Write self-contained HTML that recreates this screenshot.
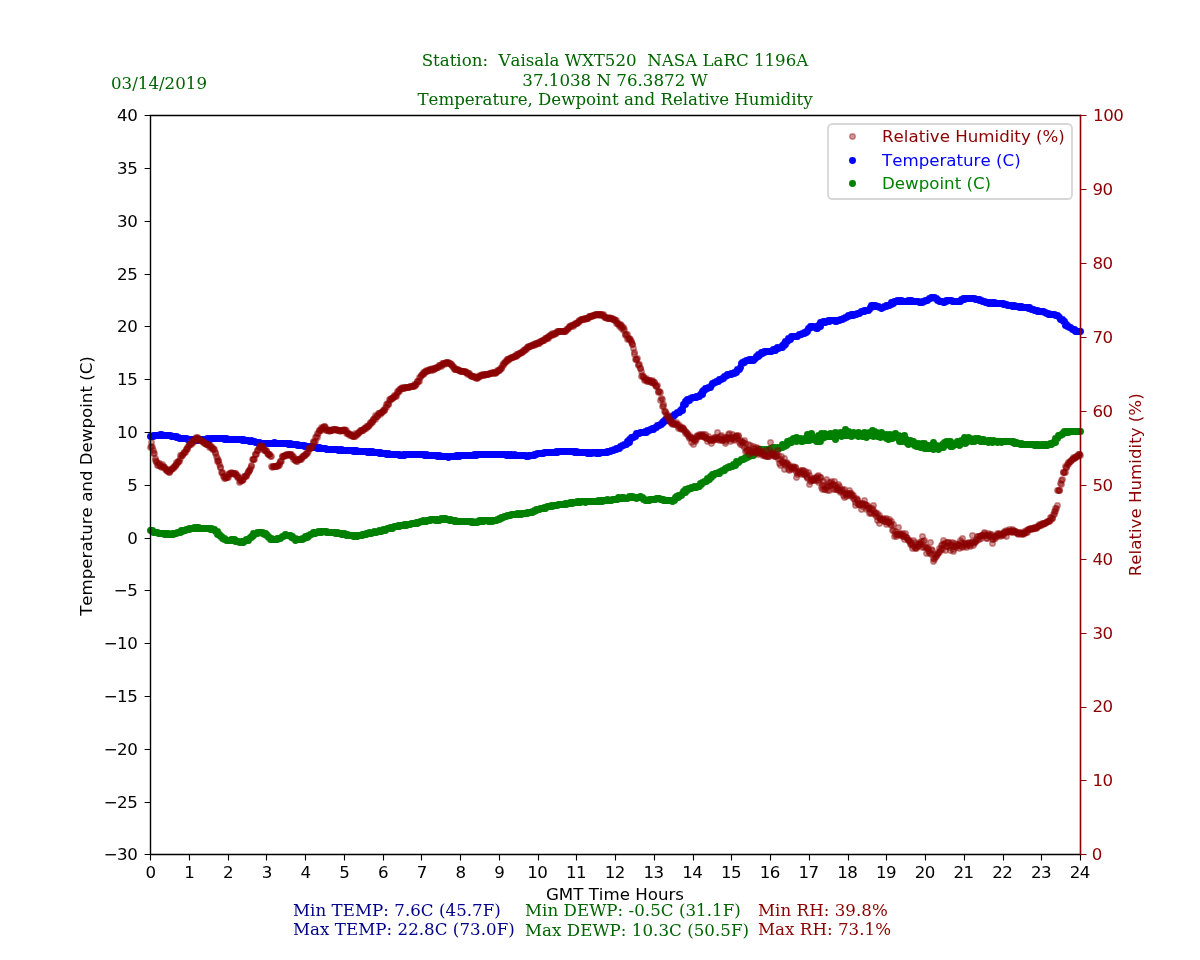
<!DOCTYPE html>
<html lang="en"><head><meta charset="utf-8"><title>Temperature, Dewpoint and Relative Humidity</title>
<style>html,body{margin:0;padding:0;background:#fff}body{width:1200px;height:960px;overflow:hidden}svg{display:block}text{font-family:"DejaVu Sans","Liberation Sans",sans-serif;font-size:16.67px;font-kerning:none}.s{font-family:"DejaVu Serif","Liberation Serif",serif}</style></head><body>
<svg width="1200" height="960" viewBox="0 0 1200 960" role="img" aria-label="Temperature, Dewpoint and Relative Humidity chart">
<rect width="1200" height="960" fill="#fff"/>
<g id="temp"><path d="M150.5 436.5h0M151.5 436.5h0M152.5 436.5h0M153.5 436.5h0M153.5 435.5h0M154.5 435.5h0M155.5 435.5h0M156.5 435.5h0M157.5 435.5h0M158.5 435.5h0M159.5 435.5h0M160.5 434.5h0M160.5 435.5h0M161.5 434.5h0M162.5 435.5h0M163.5 435.5h0M164.5 435.5h0M165.5 435.5h0M166.5 435.5h0M167.5 435.5h0M168.5 435.5h0M169.5 435.5h0M170.5 435.5h0M171.5 436.5h0M172.5 436.5h0M173.5 436.5h0M174.5 436.5h0M175.5 436.5h0M176.5 437.5h0M176.5 436.5h0M177.5 437.5h0M178.5 437.5h0M179.5 438.5h0M180.5 438.5h0M181.5 438.5h0M182.5 438.5h0M183.5 438.5h0M184.5 438.5h0M185.5 438.5h0M186.5 438.5h0M187.5 439.5h0M188.5 439.5h0M189.5 439.5h0M190.5 439.5h0M191.5 439.5h0M192.5 439.5h0M193.5 439.5h0M194.5 439.5h0M195.5 439.5h0M195.5 440.5h0M196.5 440.5h0M197.5 439.5h0M197.5 440.5h0M198.5 439.5h0M199.5 439.5h0M200.5 439.5h0M201.5 439.5h0M202.5 439.5h0M203.5 439.5h0M204.5 439.5h0M205.5 439.5h0M206.5 439.5h0M207.5 439.5h0M207.5 438.5h0M208.5 439.5h0M209.5 438.5h0M209.5 439.5h0M210.5 439.5h0M211.5 438.5h0M212.5 438.5h0M213.5 438.5h0M214.5 438.5h0M215.5 438.5h0M216.5 438.5h0M217.5 438.5h0M218.5 438.5h0M219.5 438.5h0M220.5 438.5h0M221.5 438.5h0M222.5 438.5h0M223.5 438.5h0M224.5 438.5h0M224.5 439.5h0M225.5 438.5h0M226.5 438.5h0M226.5 439.5h0M227.5 439.5h0M228.5 439.5h0M229.5 439.5h0M230.5 439.5h0M231.5 439.5h0M232.5 439.5h0M233.5 439.5h0M234.5 439.5h0M235.5 439.5h0M236.5 439.5h0M237.5 439.5h0M238.5 439.5h0M239.5 439.5h0M240.5 439.5h0M241.5 439.5h0M242.5 439.5h0M242.5 440.5h0M243.5 439.5h0M244.5 440.5h0M245.5 440.5h0M246.5 440.5h0M247.5 440.5h0M248.5 440.5h0M249.5 441.5h0M250.5 441.5h0M251.5 440.5h0M251.5 441.5h0M252.5 441.5h0M253.5 441.5h0M254.5 441.5h0M255.5 442.5h0M256.5 442.5h0M257.5 442.5h0M258.5 443.5h0M259.5 442.5h0M260.5 443.5h0M261.5 443.5h0M262.5 443.5h0M263.5 443.5h0M264.5 443.5h0M265.5 443.5h0M266.5 443.5h0M267.5 443.5h0M268.5 443.5h0M269.5 443.5h0M270.5 443.5h0M271.5 443.5h0M272.5 443.5h0M273.5 443.5h0M274.5 442.5h0M275.5 443.5h0M276.5 443.5h0M277.5 443.5h0M278.5 443.5h0M279.5 443.5h0M280.5 443.5h0M281.5 443.5h0M282.5 443.5h0M283.5 443.5h0M284.5 443.5h0M285.5 443.5h0M286.5 443.5h0M287.5 443.5h0M288.5 444.5h0M289.5 443.5h0M290.5 443.5h0M290.5 444.5h0M291.5 444.5h0M292.5 444.5h0M293.5 444.5h0M294.5 444.5h0M295.5 444.5h0M296.5 444.5h0M297.5 444.5h0M297.5 445.5h0M298.5 445.5h0M299.5 445.5h0M300.5 445.5h0M301.5 445.5h0M302.5 445.5h0M303.5 445.5h0M304.5 446.5h0M304.5 445.5h0M305.5 446.5h0M306.5 446.5h0M307.5 446.5h0M308.5 446.5h0M309.5 446.5h0M310.5 446.5h0M311.5 446.5h0M311.5 447.5h0M312.5 447.5h0M313.5 447.5h0M314.5 447.5h0M315.5 447.5h0M316.5 447.5h0M317.5 447.5h0M317.5 448.5h0M318.5 447.5h0M319.5 447.5h0M319.5 448.5h0M320.5 448.5h0M321.5 448.5h0M322.5 448.5h0M323.5 448.5h0M324.5 448.5h0M325.5 448.5h0M326.5 449.5h0M327.5 449.5h0M328.5 449.5h0M329.5 449.5h0M330.5 449.5h0M331.5 449.5h0M332.5 449.5h0M333.5 449.5h0M334.5 449.5h0M335.5 449.5h0M336.5 449.5h0M337.5 449.5h0M338.5 450.5h0M339.5 449.5h0M340.5 450.5h0M341.5 449.5h0M341.5 450.5h0M342.5 450.5h0M343.5 450.5h0M344.5 450.5h0M345.5 450.5h0M346.5 450.5h0M347.5 450.5h0M348.5 450.5h0M349.5 450.5h0M350.5 450.5h0M351.5 450.5h0M352.5 450.5h0M353.5 450.5h0M353.5 451.5h0M354.5 450.5h0M355.5 451.5h0M355.5 450.5h0M356.5 450.5h0M357.5 451.5h0M358.5 451.5h0M359.5 451.5h0M360.5 451.5h0M361.5 451.5h0M362.5 451.5h0M363.5 451.5h0M364.5 451.5h0M365.5 451.5h0M366.5 451.5h0M367.5 452.5h0M368.5 452.5h0M368.5 451.5h0M369.5 451.5h0M370.5 451.5h0M370.5 452.5h0M371.5 452.5h0M372.5 451.5h0M372.5 452.5h0M373.5 452.5h0M374.5 452.5h0M375.5 452.5h0M376.5 452.5h0M377.5 452.5h0M378.5 452.5h0M379.5 453.5h0M379.5 452.5h0M380.5 452.5h0M381.5 453.5h0M382.5 453.5h0M383.5 453.5h0M384.5 453.5h0M385.5 453.5h0M386.5 453.5h0M386.5 454.5h0M387.5 454.5h0M388.5 454.5h0M388.5 453.5h0M389.5 454.5h0M390.5 454.5h0M391.5 454.5h0M392.5 454.5h0M393.5 454.5h0M394.5 454.5h0M395.5 454.5h0M396.5 454.5h0M397.5 454.5h0M398.5 454.5h0M399.5 454.5h0M399.5 455.5h0M400.5 455.5h0M401.5 455.5h0M402.5 455.5h0M403.5 454.5h0M403.5 455.5h0M404.5 454.5h0M404.5 455.5h0M405.5 454.5h0M406.5 454.5h0M407.5 454.5h0M408.5 454.5h0M409.5 454.5h0M410.5 454.5h0M411.5 454.5h0M412.5 454.5h0M413.5 454.5h0M414.5 454.5h0M415.5 454.5h0M416.5 454.5h0M417.5 454.5h0M418.5 454.5h0M419.5 454.5h0M420.5 454.5h0M421.5 454.5h0M422.5 454.5h0M423.5 454.5h0M424.5 455.5h0M424.5 454.5h0M425.5 455.5h0M426.5 454.5h0M426.5 455.5h0M427.5 455.5h0M428.5 455.5h0M429.5 455.5h0M430.5 455.5h0M431.5 455.5h0M432.5 455.5h0M433.5 455.5h0M434.5 455.5h0M435.5 455.5h0M436.5 455.5h0M437.5 455.5h0M437.5 456.5h0M438.5 456.5h0M439.5 455.5h0M439.5 456.5h0M440.5 456.5h0M441.5 456.5h0M442.5 456.5h0M443.5 456.5h0M444.5 456.5h0M445.5 456.5h0M446.5 456.5h0M447.5 456.5h0M448.5 457.5h0M449.5 456.5h0M450.5 456.5h0M451.5 456.5h0M452.5 456.5h0M453.5 456.5h0M454.5 456.5h0M455.5 456.5h0M456.5 455.5h0M457.5 456.5h0M457.5 455.5h0M458.5 455.5h0M459.5 456.5h0M459.5 455.5h0M460.5 455.5h0M461.5 455.5h0M462.5 455.5h0M463.5 455.5h0M464.5 455.5h0M465.5 455.5h0M466.5 455.5h0M467.5 455.5h0M468.5 455.5h0M469.5 455.5h0M470.5 455.5h0M471.5 455.5h0M472.5 455.5h0M473.5 455.5h0M474.5 454.5h0M475.5 454.5h0M476.5 455.5h0M476.5 454.5h0M477.5 454.5h0M478.5 454.5h0M479.5 454.5h0M480.5 454.5h0M481.5 454.5h0M482.5 454.5h0M483.5 454.5h0M484.5 454.5h0M485.5 454.5h0M486.5 454.5h0M487.5 454.5h0M488.5 454.5h0M489.5 454.5h0M490.5 454.5h0M491.5 454.5h0M492.5 454.5h0M493.5 454.5h0M494.5 454.5h0M495.5 454.5h0M496.5 454.5h0M497.5 454.5h0M498.5 454.5h0M499.5 454.5h0M500.5 454.5h0M501.5 454.5h0M502.5 454.5h0M503.5 454.5h0M504.5 454.5h0M505.5 454.5h0M506.5 455.5h0M507.5 454.5h0M507.5 455.5h0M508.5 455.5h0M508.5 454.5h0M509.5 455.5h0M510.5 455.5h0M510.5 454.5h0M511.5 454.5h0M512.5 455.5h0M513.5 455.5h0M514.5 455.5h0M514.5 454.5h0M515.5 455.5h0M516.5 455.5h0M517.5 455.5h0M518.5 455.5h0M519.5 455.5h0M520.5 455.5h0M521.5 455.5h0M522.5 455.5h0M523.5 455.5h0M524.5 455.5h0M525.5 455.5h0M526.5 456.5h0M527.5 456.5h0M528.5 455.5h0M528.5 456.5h0M529.5 455.5h0M530.5 455.5h0M531.5 455.5h0M532.5 455.5h0M533.5 455.5h0M534.5 455.5h0M534.5 454.5h0M535.5 454.5h0M536.5 454.5h0M537.5 453.5h0M538.5 453.5h0M539.5 453.5h0M540.5 453.5h0M541.5 453.5h0M542.5 453.5h0M543.5 453.5h0M544.5 452.5h0M545.5 452.5h0M546.5 452.5h0M547.5 452.5h0M548.5 452.5h0M549.5 452.5h0M550.5 452.5h0M551.5 452.5h0M552.5 452.5h0M553.5 452.5h0M554.5 452.5h0M555.5 452.5h0M556.5 452.5h0M556.5 451.5h0M557.5 452.5h0M558.5 451.5h0M559.5 451.5h0M560.5 451.5h0M561.5 451.5h0M562.5 451.5h0M563.5 451.5h0M564.5 451.5h0M565.5 451.5h0M566.5 451.5h0M567.5 451.5h0M568.5 451.5h0M569.5 451.5h0M570.5 451.5h0M571.5 451.5h0M572.5 451.5h0M573.5 451.5h0M574.5 452.5h0M574.5 451.5h0M575.5 451.5h0M576.5 452.5h0M576.5 451.5h0M577.5 452.5h0M578.5 452.5h0M579.5 452.5h0M580.5 452.5h0M581.5 452.5h0M582.5 452.5h0M583.5 452.5h0M584.5 452.5h0M585.5 452.5h0M586.5 452.5h0M587.5 452.5h0M587.5 453.5h0M588.5 452.5h0M589.5 453.5h0M590.5 452.5h0M590.5 453.5h0M591.5 453.5h0M592.5 452.5h0M593.5 452.5h0M594.5 452.5h0M595.5 452.5h0M596.5 453.5h0M596.5 452.5h0M597.5 452.5h0M598.5 453.5h0M598.5 452.5h0M599.5 453.5h0M600.5 452.5h0M601.5 452.5h0M602.5 452.5h0M603.5 452.5h0M604.5 452.5h0M605.5 452.5h0M606.5 452.5h0M607.5 452.5h0M607.5 451.5h0M608.5 451.5h0M609.5 451.5h0M610.5 451.5h0M611.5 450.5h0M612.5 450.5h0M613.5 450.5h0M614.5 449.5h0M615.5 449.5h0M616.5 449.5h0M616.5 448.5h0M617.5 448.5h0M618.5 448.5h0M619.5 448.5h0M620.5 446.5h0M621.5 446.5h0M622.5 445.5h0M623.5 445.5h0M624.5 444.5h0M625.5 444.5h0M626.5 444.5h0M627.5 441.5h0M627.5 442.5h0M628.5 442.5h0M629.5 442.5h0M629.5 439.5h0M630.5 439.5h0M631.5 437.5h0M632.5 437.5h0M633.5 437.5h0M634.5 436.5h0M635.5 436.5h0M636.5 433.5h0M637.5 433.5h0M638.5 433.5h0M639.5 433.5h0M640.5 432.5h0M641.5 432.5h0M642.5 432.5h0M643.5 432.5h0M644.5 432.5h0M645.5 431.5h0M646.5 432.5h0M647.5 431.5h0M647.5 430.5h0M648.5 430.5h0M649.5 430.5h0M650.5 429.5h0M651.5 429.5h0M652.5 429.5h0M652.5 428.5h0M653.5 429.5h0M654.5 428.5h0M655.5 427.5h0M656.5 427.5h0M657.5 425.5h0M658.5 425.5h0M659.5 425.5h0M660.5 424.5h0M661.5 424.5h0M662.5 423.5h0M662.5 422.5h0M663.5 422.5h0M663.5 421.5h0M664.5 421.5h0M665.5 420.5h0M665.5 419.5h0M666.5 419.5h0M667.5 420.5h0M667.5 419.5h0M668.5 418.5h0M669.5 418.5h0M669.5 417.5h0M670.5 417.5h0M671.5 417.5h0M672.5 416.5h0M673.5 416.5h0M674.5 415.5h0M674.5 414.5h0M675.5 414.5h0M676.5 413.5h0M677.5 412.5h0M678.5 412.5h0M679.5 412.5h0M680.5 410.5h0M681.5 409.5h0M682.5 410.5h0M682.5 408.5h0M683.5 404.5h0M684.5 404.5h0M685.5 404.5h0M685.5 401.5h0M686.5 400.5h0M687.5 401.5h0M687.5 399.5h0M688.5 399.5h0M689.5 400.5h0M689.5 399.5h0M690.5 398.5h0M691.5 398.5h0M692.5 397.5h0M693.5 397.5h0M694.5 397.5h0M695.5 397.5h0M696.5 397.5h0M696.5 396.5h0M697.5 396.5h0M698.5 396.5h0M699.5 396.5h0M700.5 394.5h0M701.5 394.5h0M702.5 394.5h0M702.5 391.5h0M703.5 391.5h0M703.5 390.5h0M704.5 390.5h0M705.5 389.5h0M705.5 388.5h0M706.5 388.5h0M707.5 388.5h0M708.5 387.5h0M709.5 387.5h0M710.5 387.5h0M711.5 385.5h0M712.5 383.5h0M713.5 383.5h0M714.5 382.5h0M715.5 382.5h0M716.5 381.5h0M717.5 381.5h0M718.5 381.5h0M718.5 380.5h0M719.5 379.5h0M720.5 379.5h0M721.5 379.5h0M722.5 378.5h0M723.5 378.5h0M724.5 376.5h0M725.5 376.5h0M726.5 375.5h0M727.5 375.5h0M727.5 374.5h0M728.5 374.5h0M729.5 374.5h0M730.5 374.5h0M731.5 374.5h0M731.5 373.5h0M732.5 373.5h0M733.5 373.5h0M734.5 373.5h0M734.5 372.5h0M735.5 372.5h0M736.5 372.5h0M736.5 371.5h0M737.5 369.5h0M738.5 369.5h0M739.5 369.5h0M740.5 367.5h0M741.5 363.5h0M742.5 363.5h0M742.5 362.5h0M743.5 362.5h0M744.5 362.5h0M744.5 361.5h0M745.5 361.5h0M746.5 360.5h0M747.5 360.5h0M748.5 360.5h0M749.5 359.5h0M750.5 359.5h0M751.5 359.5h0M751.5 360.5h0M752.5 359.5h0M753.5 359.5h0M753.5 360.5h0M754.5 359.5h0M755.5 358.5h0M756.5 356.5h0M757.5 356.5h0M758.5 356.5h0M758.5 354.5h0M759.5 355.5h0M760.5 354.5h0M761.5 352.5h0M762.5 353.5h0M762.5 352.5h0M763.5 352.5h0M764.5 352.5h0M764.5 351.5h0M765.5 351.5h0M766.5 351.5h0M767.5 351.5h0M768.5 351.5h0M769.5 351.5h0M770.5 351.5h0M771.5 351.5h0M772.5 350.5h0M773.5 350.5h0M773.5 349.5h0M774.5 349.5h0M775.5 350.5h0M775.5 349.5h0M776.5 348.5h0M777.5 347.5h0M778.5 348.5h0M779.5 347.5h0M780.5 347.5h0M781.5 347.5h0M782.5 347.5h0M782.5 345.5h0M783.5 345.5h0M784.5 345.5h0M784.5 343.5h0M785.5 344.5h0M785.5 341.5h0M786.5 341.5h0M787.5 341.5h0M788.5 338.5h0M789.5 339.5h0M790.5 339.5h0M791.5 336.5h0M792.5 336.5h0M793.5 336.5h0M794.5 336.5h0M795.5 336.5h0M796.5 336.5h0M797.5 336.5h0M798.5 335.5h0M799.5 334.5h0M800.5 334.5h0M801.5 334.5h0M802.5 333.5h0M803.5 333.5h0M804.5 333.5h0M804.5 332.5h0M805.5 332.5h0M806.5 332.5h0M806.5 331.5h0M807.5 331.5h0M808.5 328.5h0M809.5 328.5h0M810.5 326.5h0M811.5 326.5h0M812.5 326.5h0M813.5 326.5h0M814.5 327.5h0M815.5 327.5h0M816.5 328.5h0M817.5 328.5h0M818.5 325.5h0M819.5 326.5h0M820.5 326.5h0M820.5 322.5h0M821.5 322.5h0M822.5 322.5h0M823.5 321.5h0M824.5 321.5h0M825.5 322.5h0M826.5 321.5h0M827.5 321.5h0M828.5 320.5h0M829.5 321.5h0M829.5 320.5h0M830.5 320.5h0M831.5 320.5h0M832.5 320.5h0M833.5 320.5h0M834.5 320.5h0M835.5 321.5h0M835.5 320.5h0M836.5 321.5h0M837.5 320.5h0M838.5 320.5h0M839.5 320.5h0M840.5 319.5h0M841.5 319.5h0M842.5 319.5h0M843.5 318.5h0M844.5 318.5h0M845.5 317.5h0M846.5 317.5h0M847.5 316.5h0M848.5 316.5h0M848.5 315.5h0M849.5 315.5h0M850.5 315.5h0M851.5 314.5h0M851.5 315.5h0M852.5 314.5h0M853.5 315.5h0M853.5 314.5h0M854.5 314.5h0M855.5 314.5h0M856.5 314.5h0M857.5 313.5h0M858.5 313.5h0M859.5 313.5h0M860.5 312.5h0M861.5 311.5h0M862.5 311.5h0M863.5 311.5h0M864.5 310.5h0M864.5 311.5h0M865.5 310.5h0M866.5 310.5h0M867.5 310.5h0M868.5 310.5h0M869.5 309.5h0M870.5 307.5h0M871.5 307.5h0M871.5 305.5h0M872.5 305.5h0M873.5 306.5h0M873.5 305.5h0M874.5 305.5h0M875.5 305.5h0M876.5 306.5h0M877.5 306.5h0M878.5 306.5h0M879.5 307.5h0M880.5 307.5h0M881.5 308.5h0M882.5 307.5h0M883.5 307.5h0M884.5 306.5h0M885.5 306.5h0M886.5 306.5h0M886.5 305.5h0M887.5 305.5h0M888.5 305.5h0M889.5 305.5h0M890.5 304.5h0M891.5 304.5h0M891.5 302.5h0M892.5 302.5h0M893.5 303.5h0M893.5 302.5h0M894.5 301.5h0M895.5 301.5h0M896.5 301.5h0M897.5 301.5h0M897.5 300.5h0M898.5 301.5h0M899.5 300.5h0M899.5 301.5h0M900.5 300.5h0M901.5 300.5h0M902.5 301.5h0M903.5 301.5h0M904.5 301.5h0M905.5 301.5h0M906.5 301.5h0M907.5 301.5h0M908.5 300.5h0M909.5 301.5h0M910.5 300.5h0M910.5 301.5h0M911.5 300.5h0M911.5 301.5h0M912.5 301.5h0M913.5 301.5h0M914.5 301.5h0M915.5 301.5h0M916.5 301.5h0M917.5 301.5h0M918.5 301.5h0M919.5 302.5h0M920.5 302.5h0M921.5 302.5h0M922.5 302.5h0M922.5 301.5h0M923.5 301.5h0M924.5 301.5h0M925.5 300.5h0M926.5 300.5h0M927.5 300.5h0M928.5 299.5h0M929.5 298.5h0M930.5 298.5h0M931.5 297.5h0M932.5 297.5h0M933.5 297.5h0M934.5 297.5h0M935.5 298.5h0M936.5 298.5h0M937.5 299.5h0M937.5 300.5h0M938.5 300.5h0M939.5 301.5h0M940.5 301.5h0M941.5 301.5h0M942.5 301.5h0M943.5 302.5h0M944.5 302.5h0M944.5 301.5h0M945.5 301.5h0M946.5 301.5h0M946.5 300.5h0M947.5 300.5h0M948.5 300.5h0M949.5 300.5h0M950.5 300.5h0M951.5 300.5h0M952.5 301.5h0M953.5 301.5h0M954.5 301.5h0M955.5 301.5h0M956.5 301.5h0M957.5 301.5h0M958.5 301.5h0M959.5 301.5h0M960.5 301.5h0M961.5 299.5h0M961.5 300.5h0M962.5 299.5h0M963.5 298.5h0M964.5 299.5h0M964.5 298.5h0M965.5 298.5h0M966.5 298.5h0M967.5 298.5h0M968.5 298.5h0M969.5 298.5h0M970.5 298.5h0M971.5 298.5h0M972.5 298.5h0M973.5 298.5h0M974.5 298.5h0M975.5 299.5h0M976.5 299.5h0M977.5 299.5h0M978.5 299.5h0M979.5 299.5h0M979.5 300.5h0M980.5 300.5h0M981.5 300.5h0M982.5 301.5h0M983.5 301.5h0M984.5 301.5h0M985.5 302.5h0M986.5 302.5h0M987.5 302.5h0M988.5 302.5h0M988.5 303.5h0M989.5 303.5h0M990.5 302.5h0M991.5 303.5h0M992.5 302.5h0M992.5 303.5h0M993.5 302.5h0M994.5 302.5h0M995.5 303.5h0M996.5 303.5h0M997.5 303.5h0M998.5 303.5h0M999.5 303.5h0M1000.5 303.5h0M1001.5 303.5h0M1002.5 303.5h0M1003.5 303.5h0M1003.5 304.5h0M1004.5 304.5h0M1005.5 304.5h0M1006.5 304.5h0M1007.5 305.5h0M1008.5 305.5h0M1009.5 305.5h0M1010.5 305.5h0M1011.5 305.5h0M1012.5 306.5h0M1012.5 305.5h0M1013.5 306.5h0M1014.5 305.5h0M1015.5 306.5h0M1016.5 306.5h0M1017.5 306.5h0M1018.5 306.5h0M1019.5 307.5h0M1019.5 306.5h0M1020.5 306.5h0M1021.5 306.5h0M1021.5 307.5h0M1022.5 307.5h0M1023.5 307.5h0M1024.5 307.5h0M1025.5 307.5h0M1026.5 307.5h0M1027.5 307.5h0M1028.5 307.5h0M1028.5 308.5h0M1029.5 307.5h0M1030.5 308.5h0M1031.5 309.5h0M1032.5 309.5h0M1033.5 309.5h0M1034.5 310.5h0M1035.5 310.5h0M1036.5 310.5h0M1037.5 311.5h0M1037.5 310.5h0M1038.5 311.5h0M1039.5 311.5h0M1040.5 311.5h0M1041.5 311.5h0M1042.5 311.5h0M1043.5 311.5h0M1044.5 312.5h0M1045.5 312.5h0M1046.5 313.5h0M1047.5 313.5h0M1048.5 313.5h0M1048.5 314.5h0M1049.5 314.5h0M1050.5 314.5h0M1051.5 314.5h0M1052.5 314.5h0M1053.5 314.5h0M1054.5 314.5h0M1055.5 315.5h0M1056.5 315.5h0M1057.5 315.5h0M1058.5 316.5h0M1059.5 317.5h0M1060.5 319.5h0M1061.5 319.5h0M1062.5 319.5h0M1063.5 321.5h0M1064.5 321.5h0M1065.5 325.5h0M1065.5 324.5h0M1066.5 324.5h0M1067.5 326.5h0M1068.5 326.5h0M1069.5 327.5h0M1070.5 327.5h0M1071.5 328.5h0M1072.5 329.5h0M1073.5 329.5h0M1074.5 329.5h0M1074.5 330.5h0M1075.5 330.5h0M1075.5 331.5h0M1076.5 331.5h0M1077.5 331.5h0M1078.5 331.5h0M1079.5 331.5h0M1080.5 331.5h0" fill="none" stroke="#0000ff" stroke-width="6.95" stroke-linecap="round"/></g>
<g id="dewp"><path d="M150.5 530.5h0M151.5 530.5h0M152.5 530.5h0M153.5 532.5h0M154.5 532.5h0M155.5 532.5h0M156.5 532.5h0M157.5 532.5h0M158.5 533.5h0M159.5 533.5h0M160.5 533.5h0M161.5 533.5h0M162.5 533.5h0M163.5 533.5h0M164.5 533.5h0M164.5 534.5h0M165.5 533.5h0M166.5 534.5h0M166.5 533.5h0M167.5 534.5h0M168.5 533.5h0M169.5 534.5h0M170.5 534.5h0M171.5 534.5h0M172.5 533.5h0M173.5 534.5h0M174.5 533.5h0M175.5 533.5h0M176.5 533.5h0M177.5 532.5h0M178.5 532.5h0M179.5 532.5h0M180.5 532.5h0M180.5 531.5h0M181.5 530.5h0M182.5 531.5h0M183.5 530.5h0M184.5 530.5h0M185.5 530.5h0M186.5 529.5h0M187.5 529.5h0M188.5 529.5h0M189.5 529.5h0M189.5 528.5h0M190.5 528.5h0M191.5 528.5h0M192.5 528.5h0M193.5 528.5h0M194.5 527.5h0M195.5 528.5h0M196.5 527.5h0M197.5 527.5h0M198.5 528.5h0M198.5 527.5h0M199.5 528.5h0M200.5 528.5h0M201.5 528.5h0M202.5 528.5h0M203.5 528.5h0M204.5 528.5h0M205.5 528.5h0M206.5 528.5h0M207.5 528.5h0M208.5 528.5h0M209.5 528.5h0M210.5 529.5h0M211.5 529.5h0M211.5 528.5h0M212.5 529.5h0M213.5 529.5h0M214.5 529.5h0M215.5 531.5h0M216.5 531.5h0M217.5 531.5h0M217.5 534.5h0M218.5 534.5h0M219.5 534.5h0M220.5 536.5h0M221.5 536.5h0M222.5 537.5h0M222.5 538.5h0M223.5 538.5h0M224.5 538.5h0M224.5 539.5h0M225.5 539.5h0M226.5 540.5h0M227.5 540.5h0M228.5 540.5h0M229.5 540.5h0M230.5 540.5h0M231.5 540.5h0M231.5 539.5h0M232.5 539.5h0M233.5 539.5h0M234.5 539.5h0M235.5 541.5h0M235.5 540.5h0M236.5 541.5h0M237.5 541.5h0M238.5 541.5h0M239.5 542.5h0M240.5 542.5h0M241.5 541.5h0M242.5 541.5h0M243.5 542.5h0M244.5 541.5h0M245.5 540.5h0M246.5 540.5h0M246.5 539.5h0M247.5 540.5h0M248.5 540.5h0M248.5 539.5h0M249.5 538.5h0M250.5 537.5h0M251.5 537.5h0M251.5 536.5h0M252.5 536.5h0M253.5 535.5h0M253.5 533.5h0M254.5 534.5h0M255.5 533.5h0M256.5 533.5h0M257.5 533.5h0M257.5 532.5h0M258.5 532.5h0M259.5 532.5h0M260.5 532.5h0M261.5 532.5h0M262.5 532.5h0M262.5 533.5h0M263.5 533.5h0M264.5 533.5h0M264.5 534.5h0M265.5 533.5h0M266.5 535.5h0M266.5 534.5h0M267.5 535.5h0M268.5 537.5h0M269.5 537.5h0M270.5 539.5h0M271.5 538.5h0M271.5 539.5h0M272.5 539.5h0M273.5 539.5h0M274.5 539.5h0M275.5 539.5h0M276.5 539.5h0M277.5 539.5h0M277.5 538.5h0M278.5 538.5h0M279.5 538.5h0M280.5 538.5h0M281.5 537.5h0M282.5 536.5h0M283.5 536.5h0M284.5 535.5h0M285.5 534.5h0M286.5 535.5h0M287.5 535.5h0M288.5 535.5h0M289.5 535.5h0M290.5 535.5h0M291.5 537.5h0M291.5 536.5h0M292.5 536.5h0M293.5 538.5h0M294.5 538.5h0M295.5 538.5h0M295.5 540.5h0M296.5 539.5h0M297.5 539.5h0M298.5 539.5h0M299.5 539.5h0M300.5 539.5h0M301.5 539.5h0M302.5 539.5h0M302.5 538.5h0M303.5 538.5h0M304.5 538.5h0M305.5 536.5h0M306.5 537.5h0M307.5 537.5h0M308.5 535.5h0M308.5 536.5h0M309.5 535.5h0M310.5 534.5h0M311.5 534.5h0M312.5 533.5h0M313.5 533.5h0M313.5 532.5h0M314.5 532.5h0M315.5 533.5h0M316.5 532.5h0M317.5 532.5h0M318.5 531.5h0M319.5 532.5h0M320.5 531.5h0M321.5 532.5h0M321.5 531.5h0M322.5 531.5h0M323.5 531.5h0M324.5 531.5h0M325.5 531.5h0M326.5 531.5h0M326.5 532.5h0M327.5 532.5h0M328.5 532.5h0M329.5 532.5h0M330.5 532.5h0M331.5 532.5h0M332.5 532.5h0M333.5 532.5h0M334.5 532.5h0M335.5 532.5h0M335.5 533.5h0M336.5 533.5h0M337.5 532.5h0M337.5 533.5h0M338.5 533.5h0M339.5 533.5h0M340.5 533.5h0M341.5 533.5h0M341.5 534.5h0M342.5 533.5h0M343.5 534.5h0M344.5 533.5h0M344.5 534.5h0M345.5 534.5h0M346.5 534.5h0M346.5 535.5h0M347.5 534.5h0M348.5 535.5h0M349.5 535.5h0M350.5 535.5h0M351.5 535.5h0M352.5 535.5h0M353.5 535.5h0M353.5 536.5h0M354.5 535.5h0M355.5 535.5h0M355.5 536.5h0M356.5 536.5h0M357.5 535.5h0M357.5 536.5h0M358.5 535.5h0M359.5 535.5h0M360.5 535.5h0M361.5 535.5h0M362.5 535.5h0M362.5 534.5h0M363.5 534.5h0M364.5 534.5h0M365.5 534.5h0M366.5 534.5h0M366.5 533.5h0M367.5 533.5h0M368.5 533.5h0M369.5 532.5h0M370.5 533.5h0M371.5 533.5h0M372.5 532.5h0M373.5 532.5h0M374.5 531.5h0M375.5 532.5h0M376.5 532.5h0M377.5 531.5h0M378.5 531.5h0M379.5 530.5h0M379.5 531.5h0M380.5 531.5h0M381.5 531.5h0M381.5 530.5h0M382.5 530.5h0M383.5 530.5h0M383.5 529.5h0M384.5 530.5h0M384.5 529.5h0M385.5 530.5h0M386.5 529.5h0M387.5 528.5h0M388.5 528.5h0M389.5 528.5h0M390.5 528.5h0M390.5 527.5h0M391.5 527.5h0M392.5 528.5h0M392.5 527.5h0M393.5 527.5h0M394.5 526.5h0M395.5 526.5h0M396.5 526.5h0M397.5 526.5h0M398.5 525.5h0M399.5 526.5h0M399.5 525.5h0M400.5 525.5h0M401.5 525.5h0M402.5 525.5h0M403.5 525.5h0M404.5 525.5h0M404.5 524.5h0M405.5 525.5h0M406.5 525.5h0M406.5 524.5h0M407.5 524.5h0M408.5 524.5h0M409.5 524.5h0M410.5 524.5h0M411.5 523.5h0M412.5 523.5h0M413.5 523.5h0M414.5 523.5h0M415.5 523.5h0M416.5 522.5h0M417.5 522.5h0M417.5 523.5h0M418.5 522.5h0M419.5 522.5h0M420.5 521.5h0M421.5 521.5h0M422.5 521.5h0M423.5 520.5h0M423.5 521.5h0M424.5 521.5h0M425.5 521.5h0M426.5 520.5h0M426.5 521.5h0M427.5 520.5h0M428.5 520.5h0M429.5 520.5h0M430.5 519.5h0M430.5 520.5h0M431.5 519.5h0M432.5 519.5h0M433.5 519.5h0M434.5 519.5h0M435.5 520.5h0M436.5 519.5h0M437.5 519.5h0M438.5 520.5h0M439.5 520.5h0M439.5 519.5h0M440.5 519.5h0M441.5 519.5h0M441.5 518.5h0M442.5 519.5h0M443.5 519.5h0M443.5 518.5h0M444.5 518.5h0M445.5 518.5h0M446.5 519.5h0M447.5 519.5h0M448.5 519.5h0M449.5 520.5h0M450.5 519.5h0M450.5 520.5h0M451.5 520.5h0M452.5 520.5h0M453.5 520.5h0M454.5 520.5h0M454.5 521.5h0M455.5 520.5h0M455.5 521.5h0M456.5 521.5h0M457.5 521.5h0M458.5 521.5h0M459.5 521.5h0M460.5 521.5h0M461.5 521.5h0M462.5 521.5h0M463.5 521.5h0M464.5 521.5h0M465.5 521.5h0M466.5 521.5h0M467.5 521.5h0M468.5 521.5h0M469.5 521.5h0M470.5 521.5h0M471.5 522.5h0M472.5 521.5h0M473.5 522.5h0M474.5 522.5h0M475.5 522.5h0M476.5 522.5h0M477.5 521.5h0M477.5 522.5h0M478.5 521.5h0M479.5 521.5h0M479.5 520.5h0M480.5 520.5h0M481.5 520.5h0M481.5 521.5h0M482.5 520.5h0M483.5 520.5h0M483.5 521.5h0M484.5 520.5h0M485.5 520.5h0M486.5 520.5h0M487.5 520.5h0M488.5 520.5h0M488.5 521.5h0M489.5 521.5h0M490.5 520.5h0M491.5 520.5h0M492.5 521.5h0M492.5 520.5h0M493.5 520.5h0M494.5 520.5h0M495.5 520.5h0M496.5 520.5h0M497.5 519.5h0M498.5 519.5h0M499.5 518.5h0M499.5 519.5h0M500.5 518.5h0M501.5 518.5h0M501.5 517.5h0M502.5 517.5h0M503.5 517.5h0M504.5 516.5h0M505.5 516.5h0M506.5 516.5h0M507.5 515.5h0M508.5 515.5h0M509.5 515.5h0M510.5 515.5h0M511.5 514.5h0M512.5 514.5h0M513.5 514.5h0M514.5 514.5h0M515.5 514.5h0M516.5 514.5h0M517.5 513.5h0M517.5 514.5h0M518.5 514.5h0M519.5 513.5h0M519.5 514.5h0M520.5 514.5h0M521.5 513.5h0M521.5 514.5h0M522.5 513.5h0M523.5 513.5h0M524.5 513.5h0M525.5 513.5h0M526.5 513.5h0M527.5 513.5h0M527.5 512.5h0M528.5 512.5h0M529.5 512.5h0M530.5 512.5h0M531.5 512.5h0M532.5 511.5h0M532.5 512.5h0M533.5 511.5h0M534.5 511.5h0M534.5 510.5h0M535.5 510.5h0M536.5 510.5h0M536.5 509.5h0M537.5 509.5h0M538.5 509.5h0M539.5 509.5h0M540.5 508.5h0M541.5 508.5h0M542.5 508.5h0M543.5 508.5h0M544.5 507.5h0M545.5 507.5h0M545.5 508.5h0M546.5 507.5h0M547.5 506.5h0M548.5 506.5h0M549.5 506.5h0M550.5 506.5h0M551.5 505.5h0M552.5 506.5h0M553.5 505.5h0M554.5 505.5h0M555.5 505.5h0M556.5 505.5h0M557.5 505.5h0M558.5 504.5h0M559.5 504.5h0M560.5 504.5h0M561.5 504.5h0M562.5 504.5h0M563.5 504.5h0M564.5 504.5h0M565.5 504.5h0M565.5 503.5h0M566.5 504.5h0M567.5 503.5h0M568.5 503.5h0M569.5 503.5h0M570.5 502.5h0M570.5 503.5h0M571.5 502.5h0M572.5 503.5h0M572.5 502.5h0M573.5 502.5h0M574.5 502.5h0M575.5 502.5h0M576.5 502.5h0M577.5 501.5h0M578.5 502.5h0M578.5 501.5h0M579.5 501.5h0M579.5 502.5h0M580.5 502.5h0M581.5 501.5h0M582.5 501.5h0M583.5 501.5h0M584.5 501.5h0M585.5 502.5h0M585.5 501.5h0M586.5 501.5h0M587.5 501.5h0M588.5 501.5h0M589.5 501.5h0M590.5 501.5h0M591.5 501.5h0M592.5 501.5h0M593.5 501.5h0M594.5 501.5h0M595.5 501.5h0M596.5 501.5h0M597.5 501.5h0M598.5 500.5h0M598.5 501.5h0M599.5 501.5h0M600.5 501.5h0M600.5 500.5h0M601.5 500.5h0M601.5 501.5h0M602.5 501.5h0M603.5 500.5h0M604.5 500.5h0M605.5 500.5h0M606.5 500.5h0M607.5 499.5h0M608.5 500.5h0M609.5 500.5h0M610.5 500.5h0M611.5 500.5h0M612.5 499.5h0M613.5 499.5h0M614.5 499.5h0M615.5 499.5h0M616.5 499.5h0M617.5 499.5h0M618.5 498.5h0M618.5 497.5h0M619.5 498.5h0M620.5 498.5h0M621.5 497.5h0M622.5 497.5h0M623.5 497.5h0M623.5 498.5h0M624.5 498.5h0M625.5 498.5h0M626.5 498.5h0M627.5 498.5h0M628.5 497.5h0M629.5 497.5h0M629.5 496.5h0M630.5 496.5h0M631.5 496.5h0M632.5 497.5h0M632.5 496.5h0M633.5 497.5h0M634.5 497.5h0M635.5 497.5h0M636.5 498.5h0M637.5 497.5h0M638.5 497.5h0M639.5 497.5h0M640.5 496.5h0M641.5 497.5h0M642.5 497.5h0M643.5 498.5h0M643.5 499.5h0M644.5 499.5h0M645.5 500.5h0M646.5 500.5h0M647.5 500.5h0M648.5 500.5h0M649.5 500.5h0M649.5 499.5h0M650.5 499.5h0M651.5 499.5h0M652.5 499.5h0M653.5 499.5h0M654.5 499.5h0M655.5 499.5h0M656.5 498.5h0M657.5 498.5h0M658.5 498.5h0M659.5 498.5h0M660.5 499.5h0M661.5 499.5h0M662.5 499.5h0M663.5 499.5h0M663.5 500.5h0M664.5 500.5h0M665.5 500.5h0M666.5 500.5h0M667.5 500.5h0M668.5 500.5h0M669.5 500.5h0M670.5 500.5h0M671.5 500.5h0M672.5 500.5h0M672.5 501.5h0M673.5 500.5h0M674.5 499.5h0M674.5 500.5h0M675.5 497.5h0M676.5 497.5h0M676.5 496.5h0M677.5 497.5h0M678.5 497.5h0M678.5 495.5h0M679.5 495.5h0M680.5 495.5h0M681.5 495.5h0M682.5 493.5h0M683.5 492.5h0M683.5 491.5h0M684.5 492.5h0M685.5 492.5h0M685.5 489.5h0M686.5 490.5h0M687.5 489.5h0M687.5 490.5h0M688.5 488.5h0M689.5 488.5h0M690.5 488.5h0M691.5 488.5h0M691.5 487.5h0M692.5 487.5h0M693.5 487.5h0M694.5 486.5h0M694.5 487.5h0M695.5 487.5h0M696.5 487.5h0M696.5 486.5h0M697.5 486.5h0M698.5 486.5h0M699.5 486.5h0M700.5 484.5h0M700.5 483.5h0M701.5 484.5h0M702.5 482.5h0M703.5 482.5h0M704.5 481.5h0M705.5 481.5h0M706.5 481.5h0M707.5 480.5h0M707.5 478.5h0M708.5 478.5h0M709.5 478.5h0M709.5 479.5h0M710.5 476.5h0M711.5 477.5h0M711.5 476.5h0M712.5 474.5h0M713.5 474.5h0M713.5 475.5h0M714.5 474.5h0M715.5 473.5h0M716.5 473.5h0M717.5 473.5h0M718.5 472.5h0M718.5 473.5h0M719.5 473.5h0M720.5 471.5h0M721.5 471.5h0M722.5 470.5h0M723.5 470.5h0M724.5 470.5h0M724.5 469.5h0M725.5 468.5h0M726.5 468.5h0M727.5 467.5h0M728.5 467.5h0M729.5 467.5h0M729.5 466.5h0M730.5 466.5h0M731.5 466.5h0M732.5 466.5h0M733.5 465.5h0M733.5 464.5h0M734.5 464.5h0M735.5 465.5h0M736.5 461.5h0M736.5 462.5h0M737.5 462.5h0M738.5 462.5h0M738.5 461.5h0M739.5 461.5h0M740.5 460.5h0M741.5 459.5h0M742.5 459.5h0M743.5 459.5h0M744.5 458.5h0M745.5 458.5h0M745.5 457.5h0M746.5 457.5h0M747.5 457.5h0M747.5 456.5h0M748.5 456.5h0M749.5 455.5h0M749.5 456.5h0M750.5 455.5h0M751.5 455.5h0M751.5 454.5h0M752.5 454.5h0M753.5 455.5h0M753.5 454.5h0M754.5 452.5h0M755.5 452.5h0M756.5 452.5h0M757.5 452.5h0M758.5 451.5h0M758.5 450.5h0M759.5 449.5h0M760.5 450.5h0M760.5 449.5h0M761.5 449.5h0M762.5 449.5h0M763.5 450.5h0M764.5 449.5h0M765.5 450.5h0M766.5 449.5h0M767.5 449.5h0M768.5 449.5h0M769.5 449.5h0M770.5 448.5h0M771.5 448.5h0M772.5 449.5h0M773.5 449.5h0M773.5 447.5h0M774.5 447.5h0M775.5 448.5h0M776.5 448.5h0M777.5 447.5h0M778.5 448.5h0M779.5 448.5h0M780.5 447.5h0M781.5 447.5h0M782.5 447.5h0M782.5 444.5h0M783.5 446.5h0M784.5 446.5h0M784.5 444.5h0M785.5 445.5h0M786.5 445.5h0M787.5 444.5h0M787.5 441.5h0M788.5 443.5h0M789.5 442.5h0M790.5 440.5h0M791.5 442.5h0M791.5 440.5h0M792.5 439.5h0M793.5 440.5h0M793.5 438.5h0M794.5 440.5h0M795.5 440.5h0M795.5 439.5h0M796.5 437.5h0M796.5 441.5h0M797.5 440.5h0M798.5 438.5h0M798.5 439.5h0M799.5 439.5h0M800.5 438.5h0M800.5 440.5h0M801.5 441.5h0M802.5 441.5h0M802.5 439.5h0M803.5 439.5h0M804.5 440.5h0M804.5 438.5h0M805.5 438.5h0M806.5 440.5h0M806.5 438.5h0M807.5 434.5h0M807.5 436.5h0M808.5 437.5h0M809.5 440.5h0M809.5 437.5h0M810.5 435.5h0M811.5 435.5h0M811.5 433.5h0M812.5 439.5h0M813.5 438.5h0M813.5 439.5h0M814.5 438.5h0M815.5 438.5h0M815.5 437.5h0M816.5 441.5h0M817.5 441.5h0M817.5 438.5h0M818.5 439.5h0M818.5 435.5h0M819.5 439.5h0M820.5 441.5h0M820.5 436.5h0M821.5 433.5h0M822.5 438.5h0M822.5 436.5h0M823.5 436.5h0M824.5 433.5h0M824.5 437.5h0M825.5 434.5h0M826.5 436.5h0M826.5 435.5h0M827.5 436.5h0M827.5 434.5h0M828.5 435.5h0M829.5 435.5h0M829.5 436.5h0M830.5 433.5h0M831.5 436.5h0M832.5 436.5h0M833.5 434.5h0M833.5 433.5h0M834.5 436.5h0M835.5 432.5h0M835.5 439.5h0M836.5 436.5h0M837.5 435.5h0M838.5 435.5h0M839.5 435.5h0M840.5 434.5h0M840.5 432.5h0M841.5 436.5h0M842.5 432.5h0M843.5 434.5h0M844.5 435.5h0M844.5 433.5h0M845.5 429.5h0M846.5 435.5h0M846.5 434.5h0M847.5 432.5h0M848.5 431.5h0M848.5 435.5h0M849.5 433.5h0M850.5 434.5h0M851.5 435.5h0M851.5 436.5h0M852.5 433.5h0M853.5 435.5h0M853.5 432.5h0M854.5 433.5h0M855.5 434.5h0M856.5 434.5h0M857.5 433.5h0M857.5 435.5h0M858.5 436.5h0M858.5 432.5h0M859.5 433.5h0M860.5 433.5h0M860.5 434.5h0M861.5 434.5h0M862.5 433.5h0M862.5 436.5h0M863.5 436.5h0M864.5 434.5h0M864.5 432.5h0M865.5 433.5h0M866.5 437.5h0M866.5 435.5h0M867.5 433.5h0M868.5 434.5h0M868.5 435.5h0M869.5 435.5h0M869.5 432.5h0M870.5 434.5h0M871.5 433.5h0M871.5 434.5h0M872.5 430.5h0M873.5 436.5h0M873.5 433.5h0M874.5 431.5h0M875.5 432.5h0M876.5 432.5h0M877.5 433.5h0M877.5 436.5h0M878.5 436.5h0M879.5 436.5h0M879.5 433.5h0M880.5 435.5h0M880.5 437.5h0M881.5 432.5h0M882.5 436.5h0M882.5 435.5h0M883.5 436.5h0M884.5 434.5h0M884.5 436.5h0M885.5 437.5h0M886.5 438.5h0M886.5 434.5h0M887.5 437.5h0M888.5 438.5h0M888.5 439.5h0M889.5 434.5h0M889.5 438.5h0M890.5 435.5h0M891.5 437.5h0M892.5 438.5h0M893.5 435.5h0M893.5 434.5h0M894.5 437.5h0M895.5 436.5h0M895.5 433.5h0M896.5 436.5h0M897.5 435.5h0M897.5 436.5h0M898.5 435.5h0M899.5 441.5h0M899.5 439.5h0M900.5 439.5h0M901.5 436.5h0M902.5 441.5h0M902.5 440.5h0M903.5 438.5h0M904.5 435.5h0M904.5 438.5h0M905.5 439.5h0M906.5 439.5h0M906.5 440.5h0M907.5 443.5h0M908.5 441.5h0M908.5 444.5h0M909.5 441.5h0M910.5 441.5h0M910.5 440.5h0M911.5 443.5h0M911.5 442.5h0M912.5 443.5h0M913.5 441.5h0M913.5 443.5h0M914.5 445.5h0M915.5 445.5h0M916.5 446.5h0M917.5 445.5h0M918.5 443.5h0M919.5 445.5h0M920.5 445.5h0M920.5 447.5h0M921.5 446.5h0M922.5 446.5h0M922.5 443.5h0M923.5 447.5h0M924.5 443.5h0M924.5 448.5h0M925.5 448.5h0M926.5 446.5h0M926.5 448.5h0M927.5 445.5h0M928.5 446.5h0M928.5 445.5h0M929.5 448.5h0M930.5 446.5h0M931.5 448.5h0M931.5 447.5h0M932.5 446.5h0M933.5 449.5h0M933.5 442.5h0M934.5 445.5h0M935.5 447.5h0M935.5 446.5h0M936.5 445.5h0M937.5 447.5h0M937.5 446.5h0M938.5 449.5h0M939.5 446.5h0M939.5 447.5h0M940.5 447.5h0M941.5 446.5h0M942.5 446.5h0M942.5 444.5h0M943.5 447.5h0M944.5 443.5h0M944.5 442.5h0M945.5 442.5h0M946.5 441.5h0M947.5 444.5h0M948.5 442.5h0M948.5 441.5h0M949.5 443.5h0M950.5 441.5h0M950.5 446.5h0M951.5 446.5h0M951.5 445.5h0M952.5 446.5h0M953.5 444.5h0M953.5 445.5h0M954.5 443.5h0M955.5 444.5h0M955.5 443.5h0M956.5 444.5h0M957.5 442.5h0M957.5 441.5h0M958.5 443.5h0M959.5 445.5h0M959.5 443.5h0M960.5 444.5h0M961.5 440.5h0M961.5 442.5h0M962.5 441.5h0M963.5 442.5h0M964.5 440.5h0M964.5 437.5h0M965.5 443.5h0M966.5 442.5h0M966.5 441.5h0M967.5 441.5h0M968.5 437.5h0M968.5 438.5h0M969.5 439.5h0M970.5 438.5h0M971.5 441.5h0M972.5 440.5h0M972.5 439.5h0M973.5 439.5h0M974.5 441.5h0M975.5 438.5h0M975.5 440.5h0M976.5 440.5h0M977.5 438.5h0M977.5 440.5h0M978.5 438.5h0M979.5 440.5h0M979.5 439.5h0M980.5 441.5h0M981.5 440.5h0M981.5 441.5h0M982.5 439.5h0M982.5 440.5h0M983.5 439.5h0M984.5 441.5h0M985.5 441.5h0M986.5 441.5h0M987.5 441.5h0M988.5 442.5h0M988.5 440.5h0M989.5 440.5h0M990.5 440.5h0M990.5 441.5h0M991.5 441.5h0M992.5 441.5h0M992.5 442.5h0M993.5 441.5h0M993.5 440.5h0M994.5 441.5h0M995.5 441.5h0M996.5 441.5h0M997.5 442.5h0M997.5 441.5h0M998.5 441.5h0M999.5 441.5h0M1000.5 441.5h0M1001.5 441.5h0M1001.5 442.5h0M1002.5 441.5h0M1003.5 441.5h0M1004.5 441.5h0M1005.5 441.5h0M1006.5 441.5h0M1007.5 441.5h0M1008.5 441.5h0M1009.5 441.5h0M1010.5 441.5h0M1011.5 441.5h0M1012.5 441.5h0M1012.5 442.5h0M1013.5 441.5h0M1013.5 442.5h0M1014.5 443.5h0M1015.5 442.5h0M1016.5 442.5h0M1017.5 443.5h0M1018.5 443.5h0M1019.5 443.5h0M1020.5 444.5h0M1021.5 444.5h0M1021.5 443.5h0M1022.5 444.5h0M1023.5 444.5h0M1024.5 444.5h0M1025.5 444.5h0M1026.5 444.5h0M1027.5 444.5h0M1028.5 444.5h0M1029.5 444.5h0M1030.5 444.5h0M1031.5 444.5h0M1032.5 444.5h0M1033.5 444.5h0M1034.5 445.5h0M1035.5 444.5h0M1035.5 445.5h0M1036.5 444.5h0M1037.5 444.5h0M1037.5 445.5h0M1038.5 444.5h0M1039.5 445.5h0M1040.5 445.5h0M1041.5 445.5h0M1041.5 444.5h0M1042.5 444.5h0M1043.5 445.5h0M1044.5 445.5h0M1044.5 444.5h0M1045.5 444.5h0M1046.5 444.5h0M1047.5 445.5h0M1048.5 444.5h0M1049.5 444.5h0M1050.5 444.5h0M1050.5 443.5h0M1051.5 444.5h0M1052.5 443.5h0M1053.5 442.5h0M1054.5 442.5h0M1055.5 442.5h0M1055.5 438.5h0M1056.5 438.5h0M1057.5 438.5h0M1058.5 435.5h0M1059.5 435.5h0M1060.5 435.5h0M1061.5 434.5h0M1062.5 434.5h0M1063.5 432.5h0M1064.5 431.5h0M1065.5 432.5h0M1066.5 431.5h0M1066.5 432.5h0M1067.5 432.5h0M1068.5 431.5h0M1068.5 432.5h0M1069.5 431.5h0M1070.5 431.5h0M1071.5 431.5h0M1072.5 431.5h0M1073.5 431.5h0M1074.5 431.5h0M1075.5 431.5h0M1076.5 431.5h0M1077.5 431.5h0M1078.5 431.5h0M1079.5 431.5h0M1080.5 431.5h0" fill="none" stroke="#008000" stroke-width="6.95" stroke-linecap="round"/></g>
<path d="M150.50 854.50v5.90M189.50 854.50v5.90M228.50 854.50v5.90M266.50 854.50v5.90M305.50 854.50v5.90M344.50 854.50v5.90M383.50 854.50v5.90M421.50 854.50v5.90M460.50 854.50v5.90M499.50 854.50v5.90M538.50 854.50v5.90M576.50 854.50v5.90M615.50 854.50v5.90M654.50 854.50v5.90M693.50 854.50v5.90M731.50 854.50v5.90M770.50 854.50v5.90M809.50 854.50v5.90M848.50 854.50v5.90M886.50 854.50v5.90M925.50 854.50v5.90M964.50 854.50v5.90M1003.50 854.50v5.90M1041.50 854.50v5.90M1080.50 854.50v5.90M150.50 854.50h-5.90M150.50 802.50h-5.90M150.50 749.50h-5.90M150.50 696.50h-5.90M150.50 643.50h-5.90M150.50 590.50h-5.90M150.50 538.50h-5.90M150.50 485.50h-5.90M150.50 432.50h-5.90M150.50 379.50h-5.90M150.50 326.50h-5.90M150.50 274.50h-5.90M150.50 221.50h-5.90M150.50 168.50h-5.90M150.50 115.50h-5.90" stroke="#000" stroke-width="1.11" fill="none"/>
<g id="rh" fill="#8b0000" fill-opacity="0.40" stroke="#8b0000" stroke-opacity="0.40" stroke-width="1.39">
<circle cx="150.5" cy="447.5" r="2.78"/><circle cx="151.5" cy="446.5" r="2.78"/><circle cx="151.5" cy="442.5" r="2.78"/><circle cx="152.5" cy="447.5" r="2.78"/><circle cx="153.5" cy="450.5" r="2.78"/><circle cx="153.5" cy="453.5" r="2.78"/><circle cx="154.5" cy="453.5" r="2.78"/><circle cx="155.5" cy="458.5" r="2.78"/><circle cx="155.5" cy="460.5" r="2.78"/><circle cx="156.5" cy="461.5" r="2.78"/><circle cx="156.5" cy="462.5" r="2.78"/><circle cx="157.5" cy="465.5" r="2.78"/><circle cx="158.5" cy="463.5" r="2.78"/><circle cx="158.5" cy="465.5" r="2.78"/><circle cx="159.5" cy="463.5" r="2.78"/><circle cx="160.5" cy="465.5" r="2.78"/><circle cx="160.5" cy="466.5" r="2.78"/><circle cx="161.5" cy="467.5" r="2.78"/><circle cx="162.5" cy="464.5" r="2.78"/><circle cx="162.5" cy="466.5" r="2.78"/><circle cx="163.5" cy="466.5" r="2.78"/><circle cx="164.5" cy="467.5" r="2.78"/><circle cx="164.5" cy="467.5" r="2.78"/><circle cx="165.5" cy="469.5" r="2.78"/><circle cx="166.5" cy="469.5" r="2.78"/><circle cx="166.5" cy="470.5" r="2.78"/><circle cx="167.5" cy="469.5" r="2.78"/><circle cx="167.5" cy="471.5" r="2.78"/><circle cx="168.5" cy="471.5" r="2.78"/><circle cx="169.5" cy="472.5" r="2.78"/><circle cx="169.5" cy="472.5" r="2.78"/><circle cx="170.5" cy="470.5" r="2.78"/><circle cx="171.5" cy="469.5" r="2.78"/><circle cx="171.5" cy="469.5" r="2.78"/><circle cx="172.5" cy="468.5" r="2.78"/><circle cx="173.5" cy="467.5" r="2.78"/><circle cx="173.5" cy="468.5" r="2.78"/><circle cx="174.5" cy="466.5" r="2.78"/><circle cx="175.5" cy="465.5" r="2.78"/><circle cx="175.5" cy="466.5" r="2.78"/><circle cx="176.5" cy="464.5" r="2.78"/><circle cx="176.5" cy="462.5" r="2.78"/><circle cx="177.5" cy="463.5" r="2.78"/><circle cx="178.5" cy="461.5" r="2.78"/><circle cx="178.5" cy="461.5" r="2.78"/><circle cx="179.5" cy="461.5" r="2.78"/><circle cx="180.5" cy="458.5" r="2.78"/><circle cx="180.5" cy="455.5" r="2.78"/><circle cx="181.5" cy="455.5" r="2.78"/><circle cx="182.5" cy="455.5" r="2.78"/><circle cx="182.5" cy="455.5" r="2.78"/><circle cx="183.5" cy="453.5" r="2.78"/><circle cx="184.5" cy="452.5" r="2.78"/><circle cx="184.5" cy="452.5" r="2.78"/><circle cx="185.5" cy="452.5" r="2.78"/><circle cx="186.5" cy="449.5" r="2.78"/><circle cx="186.5" cy="449.5" r="2.78"/><circle cx="187.5" cy="449.5" r="2.78"/><circle cx="187.5" cy="447.5" r="2.78"/><circle cx="188.5" cy="446.5" r="2.78"/><circle cx="189.5" cy="444.5" r="2.78"/><circle cx="189.5" cy="444.5" r="2.78"/><circle cx="190.5" cy="444.5" r="2.78"/><circle cx="191.5" cy="444.5" r="2.78"/><circle cx="191.5" cy="441.5" r="2.78"/><circle cx="192.5" cy="442.5" r="2.78"/><circle cx="193.5" cy="442.5" r="2.78"/><circle cx="193.5" cy="440.5" r="2.78"/><circle cx="194.5" cy="440.5" r="2.78"/><circle cx="195.5" cy="439.5" r="2.78"/><circle cx="195.5" cy="438.5" r="2.78"/><circle cx="196.5" cy="437.5" r="2.78"/><circle cx="197.5" cy="438.5" r="2.78"/><circle cx="197.5" cy="437.5" r="2.78"/><circle cx="198.5" cy="438.5" r="2.78"/><circle cx="198.5" cy="439.5" r="2.78"/><circle cx="199.5" cy="440.5" r="2.78"/><circle cx="200.5" cy="440.5" r="2.78"/><circle cx="200.5" cy="440.5" r="2.78"/><circle cx="201.5" cy="440.5" r="2.78"/><circle cx="202.5" cy="441.5" r="2.78"/><circle cx="202.5" cy="441.5" r="2.78"/><circle cx="203.5" cy="442.5" r="2.78"/><circle cx="204.5" cy="442.5" r="2.78"/><circle cx="204.5" cy="443.5" r="2.78"/><circle cx="205.5" cy="443.5" r="2.78"/><circle cx="206.5" cy="444.5" r="2.78"/><circle cx="206.5" cy="444.5" r="2.78"/><circle cx="207.5" cy="444.5" r="2.78"/><circle cx="207.5" cy="444.5" r="2.78"/><circle cx="208.5" cy="444.5" r="2.78"/><circle cx="209.5" cy="445.5" r="2.78"/><circle cx="209.5" cy="447.5" r="2.78"/><circle cx="210.5" cy="446.5" r="2.78"/><circle cx="211.5" cy="447.5" r="2.78"/><circle cx="211.5" cy="446.5" r="2.78"/><circle cx="212.5" cy="449.5" r="2.78"/><circle cx="213.5" cy="449.5" r="2.78"/><circle cx="213.5" cy="448.5" r="2.78"/><circle cx="214.5" cy="449.5" r="2.78"/><circle cx="215.5" cy="453.5" r="2.78"/><circle cx="215.5" cy="452.5" r="2.78"/><circle cx="216.5" cy="456.5" r="2.78"/><circle cx="217.5" cy="458.5" r="2.78"/><circle cx="217.5" cy="461.5" r="2.78"/><circle cx="218.5" cy="461.5" r="2.78"/><circle cx="218.5" cy="460.5" r="2.78"/><circle cx="219.5" cy="464.5" r="2.78"/><circle cx="220.5" cy="467.5" r="2.78"/><circle cx="220.5" cy="467.5" r="2.78"/><circle cx="221.5" cy="472.5" r="2.78"/><circle cx="222.5" cy="472.5" r="2.78"/><circle cx="222.5" cy="473.5" r="2.78"/><circle cx="223.5" cy="476.5" r="2.78"/><circle cx="224.5" cy="476.5" r="2.78"/><circle cx="224.5" cy="478.5" r="2.78"/><circle cx="225.5" cy="478.5" r="2.78"/><circle cx="226.5" cy="477.5" r="2.78"/><circle cx="226.5" cy="477.5" r="2.78"/><circle cx="227.5" cy="477.5" r="2.78"/><circle cx="228.5" cy="477.5" r="2.78"/><circle cx="228.5" cy="474.5" r="2.78"/><circle cx="229.5" cy="474.5" r="2.78"/><circle cx="229.5" cy="473.5" r="2.78"/><circle cx="230.5" cy="473.5" r="2.78"/><circle cx="231.5" cy="473.5" r="2.78"/><circle cx="231.5" cy="472.5" r="2.78"/><circle cx="232.5" cy="473.5" r="2.78"/><circle cx="233.5" cy="473.5" r="2.78"/><circle cx="233.5" cy="473.5" r="2.78"/><circle cx="234.5" cy="474.5" r="2.78"/><circle cx="235.5" cy="473.5" r="2.78"/><circle cx="235.5" cy="473.5" r="2.78"/><circle cx="236.5" cy="475.5" r="2.78"/><circle cx="237.5" cy="475.5" r="2.78"/><circle cx="237.5" cy="477.5" r="2.78"/><circle cx="238.5" cy="477.5" r="2.78"/><circle cx="238.5" cy="477.5" r="2.78"/><circle cx="239.5" cy="482.5" r="2.78"/><circle cx="240.5" cy="481.5" r="2.78"/><circle cx="240.5" cy="480.5" r="2.78"/><circle cx="241.5" cy="480.5" r="2.78"/><circle cx="242.5" cy="480.5" r="2.78"/><circle cx="242.5" cy="480.5" r="2.78"/><circle cx="243.5" cy="479.5" r="2.78"/><circle cx="244.5" cy="476.5" r="2.78"/><circle cx="244.5" cy="476.5" r="2.78"/><circle cx="245.5" cy="476.5" r="2.78"/><circle cx="246.5" cy="476.5" r="2.78"/><circle cx="246.5" cy="475.5" r="2.78"/><circle cx="247.5" cy="473.5" r="2.78"/><circle cx="248.5" cy="472.5" r="2.78"/><circle cx="248.5" cy="471.5" r="2.78"/><circle cx="249.5" cy="470.5" r="2.78"/><circle cx="249.5" cy="470.5" r="2.78"/><circle cx="250.5" cy="468.5" r="2.78"/><circle cx="251.5" cy="466.5" r="2.78"/><circle cx="251.5" cy="465.5" r="2.78"/><circle cx="252.5" cy="459.5" r="2.78"/><circle cx="253.5" cy="459.5" r="2.78"/><circle cx="253.5" cy="459.5" r="2.78"/><circle cx="254.5" cy="459.5" r="2.78"/><circle cx="255.5" cy="454.5" r="2.78"/><circle cx="255.5" cy="454.5" r="2.78"/><circle cx="256.5" cy="454.5" r="2.78"/><circle cx="257.5" cy="450.5" r="2.78"/><circle cx="257.5" cy="450.5" r="2.78"/><circle cx="258.5" cy="450.5" r="2.78"/><circle cx="259.5" cy="447.5" r="2.78"/><circle cx="259.5" cy="447.5" r="2.78"/><circle cx="260.5" cy="445.5" r="2.78"/><circle cx="260.5" cy="446.5" r="2.78"/><circle cx="261.5" cy="446.5" r="2.78"/><circle cx="262.5" cy="446.5" r="2.78"/><circle cx="262.5" cy="446.5" r="2.78"/><circle cx="263.5" cy="448.5" r="2.78"/><circle cx="264.5" cy="450.5" r="2.78"/><circle cx="264.5" cy="450.5" r="2.78"/><circle cx="265.5" cy="450.5" r="2.78"/><circle cx="266.5" cy="450.5" r="2.78"/><circle cx="266.5" cy="451.5" r="2.78"/><circle cx="267.5" cy="453.5" r="2.78"/><circle cx="268.5" cy="454.5" r="2.78"/><circle cx="268.5" cy="454.5" r="2.78"/><circle cx="269.5" cy="454.5" r="2.78"/><circle cx="269.5" cy="454.5" r="2.78"/><circle cx="270.5" cy="456.5" r="2.78"/><circle cx="271.5" cy="456.5" r="2.78"/><circle cx="271.5" cy="466.5" r="2.78"/><circle cx="272.5" cy="467.5" r="2.78"/><circle cx="273.5" cy="466.5" r="2.78"/><circle cx="273.5" cy="466.5" r="2.78"/><circle cx="274.5" cy="466.5" r="2.78"/><circle cx="275.5" cy="466.5" r="2.78"/><circle cx="275.5" cy="466.5" r="2.78"/><circle cx="276.5" cy="466.5" r="2.78"/><circle cx="277.5" cy="466.5" r="2.78"/><circle cx="277.5" cy="465.5" r="2.78"/><circle cx="278.5" cy="465.5" r="2.78"/><circle cx="279.5" cy="465.5" r="2.78"/><circle cx="279.5" cy="463.5" r="2.78"/><circle cx="280.5" cy="461.5" r="2.78"/><circle cx="280.5" cy="461.5" r="2.78"/><circle cx="281.5" cy="461.5" r="2.78"/><circle cx="282.5" cy="456.5" r="2.78"/><circle cx="282.5" cy="456.5" r="2.78"/><circle cx="283.5" cy="456.5" r="2.78"/><circle cx="284.5" cy="456.5" r="2.78"/><circle cx="284.5" cy="455.5" r="2.78"/><circle cx="285.5" cy="455.5" r="2.78"/><circle cx="286.5" cy="455.5" r="2.78"/><circle cx="286.5" cy="454.5" r="2.78"/><circle cx="287.5" cy="454.5" r="2.78"/><circle cx="288.5" cy="455.5" r="2.78"/><circle cx="288.5" cy="454.5" r="2.78"/><circle cx="289.5" cy="454.5" r="2.78"/><circle cx="290.5" cy="454.5" r="2.78"/><circle cx="290.5" cy="454.5" r="2.78"/><circle cx="291.5" cy="454.5" r="2.78"/><circle cx="291.5" cy="456.5" r="2.78"/><circle cx="292.5" cy="456.5" r="2.78"/><circle cx="293.5" cy="456.5" r="2.78"/><circle cx="293.5" cy="459.5" r="2.78"/><circle cx="294.5" cy="458.5" r="2.78"/><circle cx="295.5" cy="460.5" r="2.78"/><circle cx="295.5" cy="460.5" r="2.78"/><circle cx="296.5" cy="461.5" r="2.78"/><circle cx="297.5" cy="461.5" r="2.78"/><circle cx="297.5" cy="459.5" r="2.78"/><circle cx="298.5" cy="459.5" r="2.78"/><circle cx="299.5" cy="459.5" r="2.78"/><circle cx="299.5" cy="459.5" r="2.78"/><circle cx="300.5" cy="459.5" r="2.78"/><circle cx="300.5" cy="458.5" r="2.78"/><circle cx="301.5" cy="459.5" r="2.78"/><circle cx="302.5" cy="457.5" r="2.78"/><circle cx="302.5" cy="456.5" r="2.78"/><circle cx="303.5" cy="456.5" r="2.78"/><circle cx="304.5" cy="455.5" r="2.78"/><circle cx="304.5" cy="455.5" r="2.78"/><circle cx="305.5" cy="455.5" r="2.78"/><circle cx="306.5" cy="453.5" r="2.78"/><circle cx="306.5" cy="453.5" r="2.78"/><circle cx="307.5" cy="453.5" r="2.78"/><circle cx="308.5" cy="451.5" r="2.78"/><circle cx="308.5" cy="448.5" r="2.78"/><circle cx="309.5" cy="448.5" r="2.78"/><circle cx="310.5" cy="448.5" r="2.78"/><circle cx="310.5" cy="448.5" r="2.78"/><circle cx="311.5" cy="447.5" r="2.78"/><circle cx="311.5" cy="447.5" r="2.78"/><circle cx="312.5" cy="446.5" r="2.78"/><circle cx="313.5" cy="442.5" r="2.78"/><circle cx="313.5" cy="441.5" r="2.78"/><circle cx="314.5" cy="442.5" r="2.78"/><circle cx="315.5" cy="441.5" r="2.78"/><circle cx="315.5" cy="437.5" r="2.78"/><circle cx="316.5" cy="436.5" r="2.78"/><circle cx="317.5" cy="437.5" r="2.78"/><circle cx="317.5" cy="433.5" r="2.78"/><circle cx="318.5" cy="433.5" r="2.78"/><circle cx="319.5" cy="430.5" r="2.78"/><circle cx="319.5" cy="430.5" r="2.78"/><circle cx="320.5" cy="430.5" r="2.78"/><circle cx="321.5" cy="430.5" r="2.78"/><circle cx="321.5" cy="427.5" r="2.78"/><circle cx="322.5" cy="428.5" r="2.78"/><circle cx="322.5" cy="428.5" r="2.78"/><circle cx="323.5" cy="427.5" r="2.78"/><circle cx="324.5" cy="426.5" r="2.78"/><circle cx="324.5" cy="426.5" r="2.78"/><circle cx="325.5" cy="427.5" r="2.78"/><circle cx="326.5" cy="430.5" r="2.78"/><circle cx="326.5" cy="430.5" r="2.78"/><circle cx="327.5" cy="429.5" r="2.78"/><circle cx="328.5" cy="430.5" r="2.78"/><circle cx="328.5" cy="430.5" r="2.78"/><circle cx="329.5" cy="431.5" r="2.78"/><circle cx="330.5" cy="430.5" r="2.78"/><circle cx="330.5" cy="430.5" r="2.78"/><circle cx="331.5" cy="430.5" r="2.78"/><circle cx="331.5" cy="430.5" r="2.78"/><circle cx="332.5" cy="429.5" r="2.78"/><circle cx="333.5" cy="429.5" r="2.78"/><circle cx="333.5" cy="430.5" r="2.78"/><circle cx="334.5" cy="429.5" r="2.78"/><circle cx="335.5" cy="429.5" r="2.78"/><circle cx="335.5" cy="429.5" r="2.78"/><circle cx="336.5" cy="429.5" r="2.78"/><circle cx="337.5" cy="430.5" r="2.78"/><circle cx="337.5" cy="430.5" r="2.78"/><circle cx="338.5" cy="430.5" r="2.78"/><circle cx="339.5" cy="430.5" r="2.78"/><circle cx="339.5" cy="430.5" r="2.78"/><circle cx="340.5" cy="431.5" r="2.78"/><circle cx="341.5" cy="430.5" r="2.78"/><circle cx="341.5" cy="430.5" r="2.78"/><circle cx="342.5" cy="430.5" r="2.78"/><circle cx="342.5" cy="430.5" r="2.78"/><circle cx="343.5" cy="430.5" r="2.78"/><circle cx="344.5" cy="429.5" r="2.78"/><circle cx="344.5" cy="430.5" r="2.78"/><circle cx="345.5" cy="430.5" r="2.78"/><circle cx="346.5" cy="430.5" r="2.78"/><circle cx="346.5" cy="433.5" r="2.78"/><circle cx="347.5" cy="433.5" r="2.78"/><circle cx="348.5" cy="433.5" r="2.78"/><circle cx="348.5" cy="433.5" r="2.78"/><circle cx="349.5" cy="435.5" r="2.78"/><circle cx="350.5" cy="434.5" r="2.78"/><circle cx="350.5" cy="434.5" r="2.78"/><circle cx="351.5" cy="435.5" r="2.78"/><circle cx="352.5" cy="435.5" r="2.78"/><circle cx="352.5" cy="436.5" r="2.78"/><circle cx="353.5" cy="436.5" r="2.78"/><circle cx="353.5" cy="436.5" r="2.78"/><circle cx="354.5" cy="436.5" r="2.78"/><circle cx="355.5" cy="436.5" r="2.78"/><circle cx="355.5" cy="433.5" r="2.78"/><circle cx="356.5" cy="434.5" r="2.78"/><circle cx="357.5" cy="434.5" r="2.78"/><circle cx="357.5" cy="434.5" r="2.78"/><circle cx="358.5" cy="432.5" r="2.78"/><circle cx="359.5" cy="432.5" r="2.78"/><circle cx="359.5" cy="432.5" r="2.78"/><circle cx="360.5" cy="430.5" r="2.78"/><circle cx="361.5" cy="430.5" r="2.78"/><circle cx="361.5" cy="430.5" r="2.78"/><circle cx="362.5" cy="430.5" r="2.78"/><circle cx="362.5" cy="430.5" r="2.78"/><circle cx="363.5" cy="430.5" r="2.78"/><circle cx="364.5" cy="428.5" r="2.78"/><circle cx="364.5" cy="428.5" r="2.78"/><circle cx="365.5" cy="428.5" r="2.78"/><circle cx="366.5" cy="428.5" r="2.78"/><circle cx="366.5" cy="426.5" r="2.78"/><circle cx="367.5" cy="426.5" r="2.78"/><circle cx="368.5" cy="426.5" r="2.78"/><circle cx="368.5" cy="426.5" r="2.78"/><circle cx="369.5" cy="424.5" r="2.78"/><circle cx="370.5" cy="424.5" r="2.78"/><circle cx="370.5" cy="422.5" r="2.78"/><circle cx="371.5" cy="422.5" r="2.78"/><circle cx="372.5" cy="421.5" r="2.78"/><circle cx="372.5" cy="422.5" r="2.78"/><circle cx="373.5" cy="419.5" r="2.78"/><circle cx="373.5" cy="419.5" r="2.78"/><circle cx="374.5" cy="418.5" r="2.78"/><circle cx="375.5" cy="419.5" r="2.78"/><circle cx="375.5" cy="415.5" r="2.78"/><circle cx="376.5" cy="416.5" r="2.78"/><circle cx="377.5" cy="416.5" r="2.78"/><circle cx="377.5" cy="416.5" r="2.78"/><circle cx="378.5" cy="413.5" r="2.78"/><circle cx="379.5" cy="413.5" r="2.78"/><circle cx="379.5" cy="413.5" r="2.78"/><circle cx="380.5" cy="414.5" r="2.78"/><circle cx="381.5" cy="412.5" r="2.78"/><circle cx="381.5" cy="412.5" r="2.78"/><circle cx="382.5" cy="412.5" r="2.78"/><circle cx="383.5" cy="410.5" r="2.78"/><circle cx="383.5" cy="410.5" r="2.78"/><circle cx="384.5" cy="410.5" r="2.78"/><circle cx="384.5" cy="410.5" r="2.78"/><circle cx="385.5" cy="407.5" r="2.78"/><circle cx="386.5" cy="407.5" r="2.78"/><circle cx="386.5" cy="404.5" r="2.78"/><circle cx="387.5" cy="403.5" r="2.78"/><circle cx="388.5" cy="404.5" r="2.78"/><circle cx="388.5" cy="404.5" r="2.78"/><circle cx="389.5" cy="399.5" r="2.78"/><circle cx="390.5" cy="399.5" r="2.78"/><circle cx="390.5" cy="400.5" r="2.78"/><circle cx="391.5" cy="398.5" r="2.78"/><circle cx="392.5" cy="398.5" r="2.78"/><circle cx="392.5" cy="398.5" r="2.78"/><circle cx="393.5" cy="397.5" r="2.78"/><circle cx="393.5" cy="397.5" r="2.78"/><circle cx="394.5" cy="395.5" r="2.78"/><circle cx="395.5" cy="395.5" r="2.78"/><circle cx="395.5" cy="396.5" r="2.78"/><circle cx="396.5" cy="396.5" r="2.78"/><circle cx="397.5" cy="393.5" r="2.78"/><circle cx="397.5" cy="391.5" r="2.78"/><circle cx="398.5" cy="391.5" r="2.78"/><circle cx="399.5" cy="391.5" r="2.78"/><circle cx="399.5" cy="389.5" r="2.78"/><circle cx="400.5" cy="389.5" r="2.78"/><circle cx="401.5" cy="388.5" r="2.78"/><circle cx="401.5" cy="388.5" r="2.78"/><circle cx="402.5" cy="387.5" r="2.78"/><circle cx="403.5" cy="388.5" r="2.78"/><circle cx="403.5" cy="388.5" r="2.78"/><circle cx="404.5" cy="388.5" r="2.78"/><circle cx="404.5" cy="387.5" r="2.78"/><circle cx="405.5" cy="387.5" r="2.78"/><circle cx="406.5" cy="387.5" r="2.78"/><circle cx="406.5" cy="387.5" r="2.78"/><circle cx="407.5" cy="387.5" r="2.78"/><circle cx="408.5" cy="387.5" r="2.78"/><circle cx="408.5" cy="387.5" r="2.78"/><circle cx="409.5" cy="387.5" r="2.78"/><circle cx="410.5" cy="386.5" r="2.78"/><circle cx="410.5" cy="386.5" r="2.78"/><circle cx="411.5" cy="386.5" r="2.78"/><circle cx="412.5" cy="386.5" r="2.78"/><circle cx="412.5" cy="386.5" r="2.78"/><circle cx="413.5" cy="386.5" r="2.78"/><circle cx="414.5" cy="386.5" r="2.78"/><circle cx="414.5" cy="384.5" r="2.78"/><circle cx="415.5" cy="385.5" r="2.78"/><circle cx="415.5" cy="384.5" r="2.78"/><circle cx="416.5" cy="384.5" r="2.78"/><circle cx="417.5" cy="381.5" r="2.78"/><circle cx="417.5" cy="381.5" r="2.78"/><circle cx="418.5" cy="381.5" r="2.78"/><circle cx="419.5" cy="381.5" r="2.78"/><circle cx="419.5" cy="377.5" r="2.78"/><circle cx="420.5" cy="377.5" r="2.78"/><circle cx="421.5" cy="375.5" r="2.78"/><circle cx="421.5" cy="375.5" r="2.78"/><circle cx="422.5" cy="374.5" r="2.78"/><circle cx="423.5" cy="374.5" r="2.78"/><circle cx="423.5" cy="372.5" r="2.78"/><circle cx="424.5" cy="372.5" r="2.78"/><circle cx="424.5" cy="373.5" r="2.78"/><circle cx="425.5" cy="371.5" r="2.78"/><circle cx="426.5" cy="370.5" r="2.78"/><circle cx="426.5" cy="371.5" r="2.78"/><circle cx="427.5" cy="371.5" r="2.78"/><circle cx="428.5" cy="370.5" r="2.78"/><circle cx="428.5" cy="370.5" r="2.78"/><circle cx="429.5" cy="369.5" r="2.78"/><circle cx="430.5" cy="370.5" r="2.78"/><circle cx="430.5" cy="369.5" r="2.78"/><circle cx="431.5" cy="369.5" r="2.78"/><circle cx="432.5" cy="368.5" r="2.78"/><circle cx="432.5" cy="370.5" r="2.78"/><circle cx="433.5" cy="369.5" r="2.78"/><circle cx="434.5" cy="369.5" r="2.78"/><circle cx="434.5" cy="368.5" r="2.78"/><circle cx="435.5" cy="368.5" r="2.78"/><circle cx="435.5" cy="368.5" r="2.78"/><circle cx="436.5" cy="367.5" r="2.78"/><circle cx="437.5" cy="367.5" r="2.78"/><circle cx="437.5" cy="367.5" r="2.78"/><circle cx="438.5" cy="367.5" r="2.78"/><circle cx="439.5" cy="365.5" r="2.78"/><circle cx="439.5" cy="365.5" r="2.78"/><circle cx="440.5" cy="365.5" r="2.78"/><circle cx="441.5" cy="366.5" r="2.78"/><circle cx="441.5" cy="365.5" r="2.78"/><circle cx="442.5" cy="363.5" r="2.78"/><circle cx="443.5" cy="363.5" r="2.78"/><circle cx="443.5" cy="363.5" r="2.78"/><circle cx="444.5" cy="364.5" r="2.78"/><circle cx="445.5" cy="363.5" r="2.78"/><circle cx="445.5" cy="363.5" r="2.78"/><circle cx="446.5" cy="362.5" r="2.78"/><circle cx="446.5" cy="362.5" r="2.78"/><circle cx="447.5" cy="362.5" r="2.78"/><circle cx="448.5" cy="363.5" r="2.78"/><circle cx="448.5" cy="362.5" r="2.78"/><circle cx="449.5" cy="363.5" r="2.78"/><circle cx="450.5" cy="364.5" r="2.78"/><circle cx="450.5" cy="363.5" r="2.78"/><circle cx="451.5" cy="364.5" r="2.78"/><circle cx="452.5" cy="365.5" r="2.78"/><circle cx="452.5" cy="366.5" r="2.78"/><circle cx="453.5" cy="367.5" r="2.78"/><circle cx="454.5" cy="367.5" r="2.78"/><circle cx="454.5" cy="369.5" r="2.78"/><circle cx="455.5" cy="369.5" r="2.78"/><circle cx="455.5" cy="369.5" r="2.78"/><circle cx="456.5" cy="369.5" r="2.78"/><circle cx="457.5" cy="369.5" r="2.78"/><circle cx="457.5" cy="369.5" r="2.78"/><circle cx="458.5" cy="370.5" r="2.78"/><circle cx="459.5" cy="370.5" r="2.78"/><circle cx="459.5" cy="370.5" r="2.78"/><circle cx="460.5" cy="371.5" r="2.78"/><circle cx="461.5" cy="371.5" r="2.78"/><circle cx="461.5" cy="371.5" r="2.78"/><circle cx="462.5" cy="371.5" r="2.78"/><circle cx="463.5" cy="371.5" r="2.78"/><circle cx="463.5" cy="371.5" r="2.78"/><circle cx="464.5" cy="371.5" r="2.78"/><circle cx="465.5" cy="371.5" r="2.78"/><circle cx="465.5" cy="372.5" r="2.78"/><circle cx="466.5" cy="372.5" r="2.78"/><circle cx="466.5" cy="372.5" r="2.78"/><circle cx="467.5" cy="374.5" r="2.78"/><circle cx="468.5" cy="373.5" r="2.78"/><circle cx="468.5" cy="373.5" r="2.78"/><circle cx="469.5" cy="373.5" r="2.78"/><circle cx="470.5" cy="375.5" r="2.78"/><circle cx="470.5" cy="375.5" r="2.78"/><circle cx="471.5" cy="376.5" r="2.78"/><circle cx="472.5" cy="376.5" r="2.78"/><circle cx="472.5" cy="376.5" r="2.78"/><circle cx="473.5" cy="376.5" r="2.78"/><circle cx="474.5" cy="376.5" r="2.78"/><circle cx="474.5" cy="377.5" r="2.78"/><circle cx="475.5" cy="377.5" r="2.78"/><circle cx="476.5" cy="377.5" r="2.78"/><circle cx="476.5" cy="378.5" r="2.78"/><circle cx="477.5" cy="378.5" r="2.78"/><circle cx="477.5" cy="377.5" r="2.78"/><circle cx="478.5" cy="377.5" r="2.78"/><circle cx="479.5" cy="376.5" r="2.78"/><circle cx="479.5" cy="375.5" r="2.78"/><circle cx="480.5" cy="376.5" r="2.78"/><circle cx="481.5" cy="375.5" r="2.78"/><circle cx="481.5" cy="375.5" r="2.78"/><circle cx="482.5" cy="374.5" r="2.78"/><circle cx="483.5" cy="374.5" r="2.78"/><circle cx="483.5" cy="375.5" r="2.78"/><circle cx="484.5" cy="375.5" r="2.78"/><circle cx="485.5" cy="374.5" r="2.78"/><circle cx="485.5" cy="374.5" r="2.78"/><circle cx="486.5" cy="374.5" r="2.78"/><circle cx="486.5" cy="374.5" r="2.78"/><circle cx="487.5" cy="374.5" r="2.78"/><circle cx="488.5" cy="374.5" r="2.78"/><circle cx="488.5" cy="374.5" r="2.78"/><circle cx="489.5" cy="373.5" r="2.78"/><circle cx="490.5" cy="373.5" r="2.78"/><circle cx="490.5" cy="373.5" r="2.78"/><circle cx="491.5" cy="373.5" r="2.78"/><circle cx="492.5" cy="373.5" r="2.78"/><circle cx="492.5" cy="372.5" r="2.78"/><circle cx="493.5" cy="372.5" r="2.78"/><circle cx="494.5" cy="373.5" r="2.78"/><circle cx="494.5" cy="372.5" r="2.78"/><circle cx="495.5" cy="373.5" r="2.78"/><circle cx="496.5" cy="372.5" r="2.78"/><circle cx="496.5" cy="372.5" r="2.78"/><circle cx="497.5" cy="371.5" r="2.78"/><circle cx="497.5" cy="370.5" r="2.78"/><circle cx="498.5" cy="370.5" r="2.78"/><circle cx="499.5" cy="370.5" r="2.78"/><circle cx="499.5" cy="370.5" r="2.78"/><circle cx="500.5" cy="368.5" r="2.78"/><circle cx="501.5" cy="368.5" r="2.78"/><circle cx="501.5" cy="368.5" r="2.78"/><circle cx="502.5" cy="365.5" r="2.78"/><circle cx="503.5" cy="365.5" r="2.78"/><circle cx="503.5" cy="363.5" r="2.78"/><circle cx="504.5" cy="363.5" r="2.78"/><circle cx="505.5" cy="362.5" r="2.78"/><circle cx="505.5" cy="361.5" r="2.78"/><circle cx="506.5" cy="361.5" r="2.78"/><circle cx="507.5" cy="359.5" r="2.78"/><circle cx="507.5" cy="359.5" r="2.78"/><circle cx="508.5" cy="360.5" r="2.78"/><circle cx="508.5" cy="359.5" r="2.78"/><circle cx="509.5" cy="358.5" r="2.78"/><circle cx="510.5" cy="358.5" r="2.78"/><circle cx="510.5" cy="358.5" r="2.78"/><circle cx="511.5" cy="357.5" r="2.78"/><circle cx="512.5" cy="357.5" r="2.78"/><circle cx="512.5" cy="357.5" r="2.78"/><circle cx="513.5" cy="357.5" r="2.78"/><circle cx="514.5" cy="356.5" r="2.78"/><circle cx="514.5" cy="356.5" r="2.78"/><circle cx="515.5" cy="356.5" r="2.78"/><circle cx="516.5" cy="356.5" r="2.78"/><circle cx="516.5" cy="354.5" r="2.78"/><circle cx="517.5" cy="354.5" r="2.78"/><circle cx="517.5" cy="355.5" r="2.78"/><circle cx="518.5" cy="354.5" r="2.78"/><circle cx="519.5" cy="353.5" r="2.78"/><circle cx="519.5" cy="353.5" r="2.78"/><circle cx="520.5" cy="353.5" r="2.78"/><circle cx="521.5" cy="352.5" r="2.78"/><circle cx="521.5" cy="352.5" r="2.78"/><circle cx="522.5" cy="352.5" r="2.78"/><circle cx="523.5" cy="351.5" r="2.78"/><circle cx="523.5" cy="350.5" r="2.78"/><circle cx="524.5" cy="350.5" r="2.78"/><circle cx="525.5" cy="349.5" r="2.78"/><circle cx="525.5" cy="349.5" r="2.78"/><circle cx="526.5" cy="349.5" r="2.78"/><circle cx="527.5" cy="347.5" r="2.78"/><circle cx="527.5" cy="347.5" r="2.78"/><circle cx="528.5" cy="347.5" r="2.78"/><circle cx="528.5" cy="346.5" r="2.78"/><circle cx="529.5" cy="346.5" r="2.78"/><circle cx="530.5" cy="346.5" r="2.78"/><circle cx="530.5" cy="346.5" r="2.78"/><circle cx="531.5" cy="345.5" r="2.78"/><circle cx="532.5" cy="345.5" r="2.78"/><circle cx="532.5" cy="345.5" r="2.78"/><circle cx="533.5" cy="344.5" r="2.78"/><circle cx="534.5" cy="345.5" r="2.78"/><circle cx="534.5" cy="344.5" r="2.78"/><circle cx="535.5" cy="343.5" r="2.78"/><circle cx="536.5" cy="343.5" r="2.78"/><circle cx="536.5" cy="344.5" r="2.78"/><circle cx="537.5" cy="343.5" r="2.78"/><circle cx="538.5" cy="342.5" r="2.78"/><circle cx="538.5" cy="343.5" r="2.78"/><circle cx="539.5" cy="343.5" r="2.78"/><circle cx="539.5" cy="342.5" r="2.78"/><circle cx="540.5" cy="341.5" r="2.78"/><circle cx="541.5" cy="341.5" r="2.78"/><circle cx="541.5" cy="341.5" r="2.78"/><circle cx="542.5" cy="340.5" r="2.78"/><circle cx="543.5" cy="340.5" r="2.78"/><circle cx="543.5" cy="340.5" r="2.78"/><circle cx="544.5" cy="340.5" r="2.78"/><circle cx="545.5" cy="338.5" r="2.78"/><circle cx="545.5" cy="338.5" r="2.78"/><circle cx="546.5" cy="338.5" r="2.78"/><circle cx="547.5" cy="338.5" r="2.78"/><circle cx="547.5" cy="337.5" r="2.78"/><circle cx="548.5" cy="338.5" r="2.78"/><circle cx="548.5" cy="336.5" r="2.78"/><circle cx="549.5" cy="336.5" r="2.78"/><circle cx="550.5" cy="335.5" r="2.78"/><circle cx="550.5" cy="335.5" r="2.78"/><circle cx="551.5" cy="334.5" r="2.78"/><circle cx="552.5" cy="335.5" r="2.78"/><circle cx="552.5" cy="333.5" r="2.78"/><circle cx="553.5" cy="334.5" r="2.78"/><circle cx="554.5" cy="334.5" r="2.78"/><circle cx="554.5" cy="333.5" r="2.78"/><circle cx="555.5" cy="333.5" r="2.78"/><circle cx="556.5" cy="333.5" r="2.78"/><circle cx="556.5" cy="332.5" r="2.78"/><circle cx="557.5" cy="331.5" r="2.78"/><circle cx="558.5" cy="331.5" r="2.78"/><circle cx="558.5" cy="331.5" r="2.78"/><circle cx="559.5" cy="331.5" r="2.78"/><circle cx="559.5" cy="331.5" r="2.78"/><circle cx="560.5" cy="331.5" r="2.78"/><circle cx="561.5" cy="331.5" r="2.78"/><circle cx="561.5" cy="331.5" r="2.78"/><circle cx="562.5" cy="331.5" r="2.78"/><circle cx="563.5" cy="331.5" r="2.78"/><circle cx="563.5" cy="331.5" r="2.78"/><circle cx="564.5" cy="331.5" r="2.78"/><circle cx="565.5" cy="331.5" r="2.78"/><circle cx="565.5" cy="331.5" r="2.78"/><circle cx="566.5" cy="329.5" r="2.78"/><circle cx="567.5" cy="329.5" r="2.78"/><circle cx="567.5" cy="329.5" r="2.78"/><circle cx="568.5" cy="328.5" r="2.78"/><circle cx="569.5" cy="327.5" r="2.78"/><circle cx="569.5" cy="326.5" r="2.78"/><circle cx="570.5" cy="326.5" r="2.78"/><circle cx="570.5" cy="326.5" r="2.78"/><circle cx="571.5" cy="325.5" r="2.78"/><circle cx="572.5" cy="325.5" r="2.78"/><circle cx="572.5" cy="325.5" r="2.78"/><circle cx="573.5" cy="326.5" r="2.78"/><circle cx="574.5" cy="324.5" r="2.78"/><circle cx="574.5" cy="324.5" r="2.78"/><circle cx="575.5" cy="323.5" r="2.78"/><circle cx="576.5" cy="323.5" r="2.78"/><circle cx="576.5" cy="323.5" r="2.78"/><circle cx="577.5" cy="323.5" r="2.78"/><circle cx="578.5" cy="322.5" r="2.78"/><circle cx="578.5" cy="321.5" r="2.78"/><circle cx="579.5" cy="321.5" r="2.78"/><circle cx="579.5" cy="320.5" r="2.78"/><circle cx="580.5" cy="320.5" r="2.78"/><circle cx="581.5" cy="319.5" r="2.78"/><circle cx="581.5" cy="319.5" r="2.78"/><circle cx="582.5" cy="319.5" r="2.78"/><circle cx="583.5" cy="319.5" r="2.78"/><circle cx="583.5" cy="319.5" r="2.78"/><circle cx="584.5" cy="318.5" r="2.78"/><circle cx="585.5" cy="318.5" r="2.78"/><circle cx="585.5" cy="319.5" r="2.78"/><circle cx="586.5" cy="318.5" r="2.78"/><circle cx="587.5" cy="318.5" r="2.78"/><circle cx="587.5" cy="318.5" r="2.78"/><circle cx="588.5" cy="318.5" r="2.78"/><circle cx="589.5" cy="316.5" r="2.78"/><circle cx="589.5" cy="316.5" r="2.78"/><circle cx="590.5" cy="316.5" r="2.78"/><circle cx="590.5" cy="316.5" r="2.78"/><circle cx="591.5" cy="316.5" r="2.78"/><circle cx="592.5" cy="315.5" r="2.78"/><circle cx="592.5" cy="316.5" r="2.78"/><circle cx="593.5" cy="315.5" r="2.78"/><circle cx="594.5" cy="315.5" r="2.78"/><circle cx="594.5" cy="315.5" r="2.78"/><circle cx="595.5" cy="314.5" r="2.78"/><circle cx="596.5" cy="314.5" r="2.78"/><circle cx="596.5" cy="314.5" r="2.78"/><circle cx="597.5" cy="314.5" r="2.78"/><circle cx="598.5" cy="314.5" r="2.78"/><circle cx="598.5" cy="315.5" r="2.78"/><circle cx="599.5" cy="314.5" r="2.78"/><circle cx="600.5" cy="314.5" r="2.78"/><circle cx="600.5" cy="314.5" r="2.78"/><circle cx="601.5" cy="315.5" r="2.78"/><circle cx="601.5" cy="314.5" r="2.78"/><circle cx="602.5" cy="315.5" r="2.78"/><circle cx="603.5" cy="315.5" r="2.78"/><circle cx="603.5" cy="314.5" r="2.78"/><circle cx="604.5" cy="317.5" r="2.78"/><circle cx="605.5" cy="317.5" r="2.78"/><circle cx="605.5" cy="317.5" r="2.78"/><circle cx="606.5" cy="317.5" r="2.78"/><circle cx="607.5" cy="318.5" r="2.78"/><circle cx="607.5" cy="318.5" r="2.78"/><circle cx="608.5" cy="318.5" r="2.78"/><circle cx="609.5" cy="317.5" r="2.78"/><circle cx="609.5" cy="318.5" r="2.78"/><circle cx="610.5" cy="318.5" r="2.78"/><circle cx="610.5" cy="318.5" r="2.78"/><circle cx="611.5" cy="318.5" r="2.78"/><circle cx="612.5" cy="318.5" r="2.78"/><circle cx="612.5" cy="319.5" r="2.78"/><circle cx="613.5" cy="319.5" r="2.78"/><circle cx="614.5" cy="319.5" r="2.78"/><circle cx="614.5" cy="320.5" r="2.78"/><circle cx="615.5" cy="320.5" r="2.78"/><circle cx="616.5" cy="320.5" r="2.78"/><circle cx="616.5" cy="323.5" r="2.78"/><circle cx="617.5" cy="323.5" r="2.78"/><circle cx="618.5" cy="324.5" r="2.78"/><circle cx="618.5" cy="323.5" r="2.78"/><circle cx="619.5" cy="326.5" r="2.78"/><circle cx="620.5" cy="324.5" r="2.78"/><circle cx="620.5" cy="325.5" r="2.78"/><circle cx="621.5" cy="325.5" r="2.78"/><circle cx="621.5" cy="328.5" r="2.78"/><circle cx="622.5" cy="327.5" r="2.78"/><circle cx="623.5" cy="327.5" r="2.78"/><circle cx="623.5" cy="330.5" r="2.78"/><circle cx="624.5" cy="329.5" r="2.78"/><circle cx="625.5" cy="335.5" r="2.78"/><circle cx="625.5" cy="334.5" r="2.78"/><circle cx="626.5" cy="334.5" r="2.78"/><circle cx="627.5" cy="334.5" r="2.78"/><circle cx="627.5" cy="339.5" r="2.78"/><circle cx="628.5" cy="338.5" r="2.78"/><circle cx="629.5" cy="339.5" r="2.78"/><circle cx="629.5" cy="338.5" r="2.78"/><circle cx="630.5" cy="339.5" r="2.78"/><circle cx="631.5" cy="341.5" r="2.78"/><circle cx="631.5" cy="342.5" r="2.78"/><circle cx="632.5" cy="344.5" r="2.78"/><circle cx="632.5" cy="344.5" r="2.78"/><circle cx="633.5" cy="348.5" r="2.78"/><circle cx="634.5" cy="352.5" r="2.78"/><circle cx="634.5" cy="354.5" r="2.78"/><circle cx="635.5" cy="359.5" r="2.78"/><circle cx="636.5" cy="359.5" r="2.78"/><circle cx="636.5" cy="359.5" r="2.78"/><circle cx="637.5" cy="358.5" r="2.78"/><circle cx="638.5" cy="364.5" r="2.78"/><circle cx="638.5" cy="365.5" r="2.78"/><circle cx="639.5" cy="364.5" r="2.78"/><circle cx="640.5" cy="368.5" r="2.78"/><circle cx="640.5" cy="368.5" r="2.78"/><circle cx="641.5" cy="371.5" r="2.78"/><circle cx="641.5" cy="376.5" r="2.78"/><circle cx="642.5" cy="375.5" r="2.78"/><circle cx="643.5" cy="376.5" r="2.78"/><circle cx="643.5" cy="377.5" r="2.78"/><circle cx="644.5" cy="380.5" r="2.78"/><circle cx="645.5" cy="379.5" r="2.78"/><circle cx="645.5" cy="379.5" r="2.78"/><circle cx="646.5" cy="378.5" r="2.78"/><circle cx="647.5" cy="381.5" r="2.78"/><circle cx="647.5" cy="381.5" r="2.78"/><circle cx="648.5" cy="380.5" r="2.78"/><circle cx="649.5" cy="380.5" r="2.78"/><circle cx="649.5" cy="380.5" r="2.78"/><circle cx="650.5" cy="381.5" r="2.78"/><circle cx="651.5" cy="382.5" r="2.78"/><circle cx="651.5" cy="382.5" r="2.78"/><circle cx="652.5" cy="381.5" r="2.78"/><circle cx="652.5" cy="380.5" r="2.78"/><circle cx="653.5" cy="383.5" r="2.78"/><circle cx="654.5" cy="382.5" r="2.78"/><circle cx="654.5" cy="382.5" r="2.78"/><circle cx="655.5" cy="385.5" r="2.78"/><circle cx="656.5" cy="386.5" r="2.78"/><circle cx="656.5" cy="386.5" r="2.78"/><circle cx="657.5" cy="385.5" r="2.78"/><circle cx="658.5" cy="391.5" r="2.78"/><circle cx="658.5" cy="392.5" r="2.78"/><circle cx="659.5" cy="391.5" r="2.78"/><circle cx="660.5" cy="392.5" r="2.78"/><circle cx="660.5" cy="400.5" r="2.78"/><circle cx="661.5" cy="398.5" r="2.78"/><circle cx="662.5" cy="399.5" r="2.78"/><circle cx="662.5" cy="406.5" r="2.78"/><circle cx="663.5" cy="406.5" r="2.78"/><circle cx="663.5" cy="404.5" r="2.78"/><circle cx="664.5" cy="411.5" r="2.78"/><circle cx="665.5" cy="411.5" r="2.78"/><circle cx="665.5" cy="412.5" r="2.78"/><circle cx="666.5" cy="414.5" r="2.78"/><circle cx="667.5" cy="417.5" r="2.78"/><circle cx="667.5" cy="416.5" r="2.78"/><circle cx="668.5" cy="415.5" r="2.78"/><circle cx="669.5" cy="418.5" r="2.78"/><circle cx="669.5" cy="421.5" r="2.78"/><circle cx="670.5" cy="420.5" r="2.78"/><circle cx="671.5" cy="422.5" r="2.78"/><circle cx="671.5" cy="423.5" r="2.78"/><circle cx="672.5" cy="422.5" r="2.78"/><circle cx="672.5" cy="424.5" r="2.78"/><circle cx="673.5" cy="423.5" r="2.78"/><circle cx="674.5" cy="424.5" r="2.78"/><circle cx="674.5" cy="423.5" r="2.78"/><circle cx="675.5" cy="424.5" r="2.78"/><circle cx="676.5" cy="424.5" r="2.78"/><circle cx="676.5" cy="422.5" r="2.78"/><circle cx="677.5" cy="425.5" r="2.78"/><circle cx="678.5" cy="424.5" r="2.78"/><circle cx="678.5" cy="428.5" r="2.78"/><circle cx="679.5" cy="427.5" r="2.78"/><circle cx="680.5" cy="428.5" r="2.78"/><circle cx="680.5" cy="426.5" r="2.78"/><circle cx="681.5" cy="429.5" r="2.78"/><circle cx="682.5" cy="428.5" r="2.78"/><circle cx="682.5" cy="427.5" r="2.78"/><circle cx="683.5" cy="428.5" r="2.78"/><circle cx="683.5" cy="429.5" r="2.78"/><circle cx="684.5" cy="430.5" r="2.78"/><circle cx="685.5" cy="433.5" r="2.78"/><circle cx="685.5" cy="431.5" r="2.78"/><circle cx="686.5" cy="432.5" r="2.78"/><circle cx="687.5" cy="433.5" r="2.78"/><circle cx="687.5" cy="434.5" r="2.78"/><circle cx="688.5" cy="436.5" r="2.78"/><circle cx="689.5" cy="438.5" r="2.78"/><circle cx="689.5" cy="435.5" r="2.78"/><circle cx="690.5" cy="437.5" r="2.78"/><circle cx="691.5" cy="437.5" r="2.78"/><circle cx="691.5" cy="442.5" r="2.78"/><circle cx="692.5" cy="438.5" r="2.78"/><circle cx="693.5" cy="438.5" r="2.78"/><circle cx="693.5" cy="444.5" r="2.78"/><circle cx="694.5" cy="439.5" r="2.78"/><circle cx="694.5" cy="440.5" r="2.78"/><circle cx="695.5" cy="441.5" r="2.78"/><circle cx="696.5" cy="439.5" r="2.78"/><circle cx="696.5" cy="436.5" r="2.78"/><circle cx="697.5" cy="435.5" r="2.78"/><circle cx="698.5" cy="436.5" r="2.78"/><circle cx="698.5" cy="436.5" r="2.78"/><circle cx="699.5" cy="434.5" r="2.78"/><circle cx="700.5" cy="435.5" r="2.78"/><circle cx="700.5" cy="436.5" r="2.78"/><circle cx="701.5" cy="434.5" r="2.78"/><circle cx="702.5" cy="435.5" r="2.78"/><circle cx="702.5" cy="436.5" r="2.78"/><circle cx="703.5" cy="434.5" r="2.78"/><circle cx="703.5" cy="436.5" r="2.78"/><circle cx="704.5" cy="437.5" r="2.78"/><circle cx="705.5" cy="434.5" r="2.78"/><circle cx="705.5" cy="437.5" r="2.78"/><circle cx="706.5" cy="438.5" r="2.78"/><circle cx="707.5" cy="438.5" r="2.78"/><circle cx="707.5" cy="441.5" r="2.78"/><circle cx="708.5" cy="436.5" r="2.78"/><circle cx="709.5" cy="439.5" r="2.78"/><circle cx="709.5" cy="439.5" r="2.78"/><circle cx="710.5" cy="440.5" r="2.78"/><circle cx="711.5" cy="443.5" r="2.78"/><circle cx="711.5" cy="439.5" r="2.78"/><circle cx="712.5" cy="440.5" r="2.78"/><circle cx="713.5" cy="440.5" r="2.78"/><circle cx="713.5" cy="438.5" r="2.78"/><circle cx="714.5" cy="439.5" r="2.78"/><circle cx="714.5" cy="437.5" r="2.78"/><circle cx="715.5" cy="437.5" r="2.78"/><circle cx="716.5" cy="439.5" r="2.78"/><circle cx="716.5" cy="438.5" r="2.78"/><circle cx="717.5" cy="432.5" r="2.78"/><circle cx="718.5" cy="439.5" r="2.78"/><circle cx="718.5" cy="437.5" r="2.78"/><circle cx="719.5" cy="440.5" r="2.78"/><circle cx="720.5" cy="439.5" r="2.78"/><circle cx="720.5" cy="436.5" r="2.78"/><circle cx="721.5" cy="435.5" r="2.78"/><circle cx="722.5" cy="440.5" r="2.78"/><circle cx="722.5" cy="440.5" r="2.78"/><circle cx="723.5" cy="439.5" r="2.78"/><circle cx="724.5" cy="439.5" r="2.78"/><circle cx="724.5" cy="437.5" r="2.78"/><circle cx="725.5" cy="443.5" r="2.78"/><circle cx="725.5" cy="441.5" r="2.78"/><circle cx="726.5" cy="437.5" r="2.78"/><circle cx="727.5" cy="437.5" r="2.78"/><circle cx="727.5" cy="439.5" r="2.78"/><circle cx="728.5" cy="434.5" r="2.78"/><circle cx="729.5" cy="438.5" r="2.78"/><circle cx="729.5" cy="433.5" r="2.78"/><circle cx="730.5" cy="441.5" r="2.78"/><circle cx="731.5" cy="437.5" r="2.78"/><circle cx="731.5" cy="439.5" r="2.78"/><circle cx="732.5" cy="434.5" r="2.78"/><circle cx="733.5" cy="438.5" r="2.78"/><circle cx="733.5" cy="437.5" r="2.78"/><circle cx="734.5" cy="440.5" r="2.78"/><circle cx="734.5" cy="439.5" r="2.78"/><circle cx="735.5" cy="436.5" r="2.78"/><circle cx="736.5" cy="436.5" r="2.78"/><circle cx="736.5" cy="435.5" r="2.78"/><circle cx="737.5" cy="438.5" r="2.78"/><circle cx="738.5" cy="435.5" r="2.78"/><circle cx="738.5" cy="436.5" r="2.78"/><circle cx="739.5" cy="442.5" r="2.78"/><circle cx="740.5" cy="444.5" r="2.78"/><circle cx="740.5" cy="440.5" r="2.78"/><circle cx="741.5" cy="441.5" r="2.78"/><circle cx="742.5" cy="445.5" r="2.78"/><circle cx="742.5" cy="442.5" r="2.78"/><circle cx="743.5" cy="442.5" r="2.78"/><circle cx="744.5" cy="440.5" r="2.78"/><circle cx="744.5" cy="447.5" r="2.78"/><circle cx="745.5" cy="443.5" r="2.78"/><circle cx="745.5" cy="451.5" r="2.78"/><circle cx="746.5" cy="450.5" r="2.78"/><circle cx="747.5" cy="449.5" r="2.78"/><circle cx="747.5" cy="450.5" r="2.78"/><circle cx="748.5" cy="444.5" r="2.78"/><circle cx="749.5" cy="450.5" r="2.78"/><circle cx="749.5" cy="454.5" r="2.78"/><circle cx="750.5" cy="445.5" r="2.78"/><circle cx="751.5" cy="451.5" r="2.78"/><circle cx="751.5" cy="452.5" r="2.78"/><circle cx="752.5" cy="452.5" r="2.78"/><circle cx="753.5" cy="446.5" r="2.78"/><circle cx="753.5" cy="448.5" r="2.78"/><circle cx="754.5" cy="452.5" r="2.78"/><circle cx="755.5" cy="451.5" r="2.78"/><circle cx="755.5" cy="448.5" r="2.78"/><circle cx="756.5" cy="447.5" r="2.78"/><circle cx="756.5" cy="451.5" r="2.78"/><circle cx="757.5" cy="453.5" r="2.78"/><circle cx="758.5" cy="454.5" r="2.78"/><circle cx="758.5" cy="448.5" r="2.78"/><circle cx="759.5" cy="452.5" r="2.78"/><circle cx="760.5" cy="451.5" r="2.78"/><circle cx="760.5" cy="451.5" r="2.78"/><circle cx="761.5" cy="453.5" r="2.78"/><circle cx="762.5" cy="451.5" r="2.78"/><circle cx="762.5" cy="455.5" r="2.78"/><circle cx="763.5" cy="454.5" r="2.78"/><circle cx="764.5" cy="454.5" r="2.78"/><circle cx="764.5" cy="455.5" r="2.78"/><circle cx="765.5" cy="456.5" r="2.78"/><circle cx="765.5" cy="455.5" r="2.78"/><circle cx="766.5" cy="450.5" r="2.78"/><circle cx="767.5" cy="456.5" r="2.78"/><circle cx="767.5" cy="456.5" r="2.78"/><circle cx="768.5" cy="456.5" r="2.78"/><circle cx="769.5" cy="456.5" r="2.78"/><circle cx="769.5" cy="449.5" r="2.78"/><circle cx="770.5" cy="442.5" r="2.78"/><circle cx="771.5" cy="453.5" r="2.78"/><circle cx="771.5" cy="454.5" r="2.78"/><circle cx="772.5" cy="452.5" r="2.78"/><circle cx="773.5" cy="454.5" r="2.78"/><circle cx="773.5" cy="455.5" r="2.78"/><circle cx="774.5" cy="456.5" r="2.78"/><circle cx="775.5" cy="456.5" r="2.78"/><circle cx="775.5" cy="456.5" r="2.78"/><circle cx="776.5" cy="454.5" r="2.78"/><circle cx="776.5" cy="455.5" r="2.78"/><circle cx="777.5" cy="450.5" r="2.78"/><circle cx="778.5" cy="455.5" r="2.78"/><circle cx="778.5" cy="459.5" r="2.78"/><circle cx="779.5" cy="463.5" r="2.78"/><circle cx="780.5" cy="465.5" r="2.78"/><circle cx="780.5" cy="459.5" r="2.78"/><circle cx="781.5" cy="456.5" r="2.78"/><circle cx="782.5" cy="461.5" r="2.78"/><circle cx="782.5" cy="462.5" r="2.78"/><circle cx="783.5" cy="463.5" r="2.78"/><circle cx="784.5" cy="469.5" r="2.78"/><circle cx="784.5" cy="458.5" r="2.78"/><circle cx="785.5" cy="465.5" r="2.78"/><circle cx="785.5" cy="463.5" r="2.78"/><circle cx="786.5" cy="462.5" r="2.78"/><circle cx="787.5" cy="464.5" r="2.78"/><circle cx="787.5" cy="463.5" r="2.78"/><circle cx="788.5" cy="469.5" r="2.78"/><circle cx="789.5" cy="465.5" r="2.78"/><circle cx="789.5" cy="470.5" r="2.78"/><circle cx="790.5" cy="467.5" r="2.78"/><circle cx="791.5" cy="467.5" r="2.78"/><circle cx="791.5" cy="469.5" r="2.78"/><circle cx="792.5" cy="468.5" r="2.78"/><circle cx="793.5" cy="467.5" r="2.78"/><circle cx="793.5" cy="466.5" r="2.78"/><circle cx="794.5" cy="469.5" r="2.78"/><circle cx="795.5" cy="467.5" r="2.78"/><circle cx="795.5" cy="467.5" r="2.78"/><circle cx="796.5" cy="477.5" r="2.78"/><circle cx="796.5" cy="472.5" r="2.78"/><circle cx="797.5" cy="474.5" r="2.78"/><circle cx="798.5" cy="472.5" r="2.78"/><circle cx="798.5" cy="472.5" r="2.78"/><circle cx="799.5" cy="471.5" r="2.78"/><circle cx="800.5" cy="473.5" r="2.78"/><circle cx="800.5" cy="470.5" r="2.78"/><circle cx="801.5" cy="474.5" r="2.78"/><circle cx="802.5" cy="472.5" r="2.78"/><circle cx="802.5" cy="470.5" r="2.78"/><circle cx="803.5" cy="470.5" r="2.78"/><circle cx="804.5" cy="474.5" r="2.78"/><circle cx="804.5" cy="474.5" r="2.78"/><circle cx="805.5" cy="471.5" r="2.78"/><circle cx="806.5" cy="473.5" r="2.78"/><circle cx="806.5" cy="476.5" r="2.78"/><circle cx="807.5" cy="478.5" r="2.78"/><circle cx="807.5" cy="477.5" r="2.78"/><circle cx="808.5" cy="472.5" r="2.78"/><circle cx="809.5" cy="484.5" r="2.78"/><circle cx="809.5" cy="475.5" r="2.78"/><circle cx="810.5" cy="481.5" r="2.78"/><circle cx="811.5" cy="480.5" r="2.78"/><circle cx="811.5" cy="478.5" r="2.78"/><circle cx="812.5" cy="480.5" r="2.78"/><circle cx="813.5" cy="480.5" r="2.78"/><circle cx="813.5" cy="479.5" r="2.78"/><circle cx="814.5" cy="478.5" r="2.78"/><circle cx="815.5" cy="477.5" r="2.78"/><circle cx="815.5" cy="480.5" r="2.78"/><circle cx="816.5" cy="478.5" r="2.78"/><circle cx="817.5" cy="480.5" r="2.78"/><circle cx="817.5" cy="476.5" r="2.78"/><circle cx="818.5" cy="475.5" r="2.78"/><circle cx="818.5" cy="482.5" r="2.78"/><circle cx="819.5" cy="480.5" r="2.78"/><circle cx="820.5" cy="477.5" r="2.78"/><circle cx="820.5" cy="477.5" r="2.78"/><circle cx="821.5" cy="487.5" r="2.78"/><circle cx="822.5" cy="489.5" r="2.78"/><circle cx="822.5" cy="485.5" r="2.78"/><circle cx="823.5" cy="481.5" r="2.78"/><circle cx="824.5" cy="489.5" r="2.78"/><circle cx="824.5" cy="485.5" r="2.78"/><circle cx="825.5" cy="489.5" r="2.78"/><circle cx="826.5" cy="487.5" r="2.78"/><circle cx="826.5" cy="479.5" r="2.78"/><circle cx="827.5" cy="490.5" r="2.78"/><circle cx="827.5" cy="485.5" r="2.78"/><circle cx="828.5" cy="486.5" r="2.78"/><circle cx="829.5" cy="490.5" r="2.78"/><circle cx="829.5" cy="482.5" r="2.78"/><circle cx="830.5" cy="485.5" r="2.78"/><circle cx="831.5" cy="483.5" r="2.78"/><circle cx="831.5" cy="481.5" r="2.78"/><circle cx="832.5" cy="485.5" r="2.78"/><circle cx="833.5" cy="489.5" r="2.78"/><circle cx="833.5" cy="484.5" r="2.78"/><circle cx="834.5" cy="481.5" r="2.78"/><circle cx="835.5" cy="489.5" r="2.78"/><circle cx="835.5" cy="485.5" r="2.78"/><circle cx="836.5" cy="489.5" r="2.78"/><circle cx="837.5" cy="487.5" r="2.78"/><circle cx="837.5" cy="488.5" r="2.78"/><circle cx="838.5" cy="484.5" r="2.78"/><circle cx="838.5" cy="490.5" r="2.78"/><circle cx="839.5" cy="486.5" r="2.78"/><circle cx="840.5" cy="490.5" r="2.78"/><circle cx="840.5" cy="492.5" r="2.78"/><circle cx="841.5" cy="491.5" r="2.78"/><circle cx="842.5" cy="489.5" r="2.78"/><circle cx="842.5" cy="490.5" r="2.78"/><circle cx="843.5" cy="495.5" r="2.78"/><circle cx="844.5" cy="497.5" r="2.78"/><circle cx="844.5" cy="489.5" r="2.78"/><circle cx="845.5" cy="493.5" r="2.78"/><circle cx="846.5" cy="494.5" r="2.78"/><circle cx="846.5" cy="496.5" r="2.78"/><circle cx="847.5" cy="493.5" r="2.78"/><circle cx="848.5" cy="493.5" r="2.78"/><circle cx="848.5" cy="495.5" r="2.78"/><circle cx="849.5" cy="494.5" r="2.78"/><circle cx="849.5" cy="490.5" r="2.78"/><circle cx="850.5" cy="493.5" r="2.78"/><circle cx="851.5" cy="493.5" r="2.78"/><circle cx="851.5" cy="496.5" r="2.78"/><circle cx="852.5" cy="495.5" r="2.78"/><circle cx="853.5" cy="495.5" r="2.78"/><circle cx="853.5" cy="498.5" r="2.78"/><circle cx="854.5" cy="499.5" r="2.78"/><circle cx="855.5" cy="502.5" r="2.78"/><circle cx="855.5" cy="505.5" r="2.78"/><circle cx="856.5" cy="498.5" r="2.78"/><circle cx="857.5" cy="500.5" r="2.78"/><circle cx="857.5" cy="499.5" r="2.78"/><circle cx="858.5" cy="504.5" r="2.78"/><circle cx="858.5" cy="504.5" r="2.78"/><circle cx="859.5" cy="503.5" r="2.78"/><circle cx="860.5" cy="504.5" r="2.78"/><circle cx="860.5" cy="505.5" r="2.78"/><circle cx="861.5" cy="509.5" r="2.78"/><circle cx="862.5" cy="503.5" r="2.78"/><circle cx="862.5" cy="503.5" r="2.78"/><circle cx="863.5" cy="506.5" r="2.78"/><circle cx="864.5" cy="500.5" r="2.78"/><circle cx="864.5" cy="504.5" r="2.78"/><circle cx="865.5" cy="504.5" r="2.78"/><circle cx="866.5" cy="505.5" r="2.78"/><circle cx="866.5" cy="509.5" r="2.78"/><circle cx="867.5" cy="505.5" r="2.78"/><circle cx="868.5" cy="508.5" r="2.78"/><circle cx="868.5" cy="508.5" r="2.78"/><circle cx="869.5" cy="507.5" r="2.78"/><circle cx="869.5" cy="513.5" r="2.78"/><circle cx="870.5" cy="512.5" r="2.78"/><circle cx="871.5" cy="513.5" r="2.78"/><circle cx="871.5" cy="509.5" r="2.78"/><circle cx="872.5" cy="508.5" r="2.78"/><circle cx="873.5" cy="505.5" r="2.78"/><circle cx="873.5" cy="510.5" r="2.78"/><circle cx="874.5" cy="514.5" r="2.78"/><circle cx="875.5" cy="513.5" r="2.78"/><circle cx="875.5" cy="512.5" r="2.78"/><circle cx="876.5" cy="516.5" r="2.78"/><circle cx="877.5" cy="513.5" r="2.78"/><circle cx="877.5" cy="520.5" r="2.78"/><circle cx="878.5" cy="517.5" r="2.78"/><circle cx="879.5" cy="523.5" r="2.78"/><circle cx="879.5" cy="515.5" r="2.78"/><circle cx="880.5" cy="519.5" r="2.78"/><circle cx="880.5" cy="518.5" r="2.78"/><circle cx="881.5" cy="519.5" r="2.78"/><circle cx="882.5" cy="519.5" r="2.78"/><circle cx="882.5" cy="520.5" r="2.78"/><circle cx="883.5" cy="518.5" r="2.78"/><circle cx="884.5" cy="521.5" r="2.78"/><circle cx="884.5" cy="521.5" r="2.78"/><circle cx="885.5" cy="519.5" r="2.78"/><circle cx="886.5" cy="518.5" r="2.78"/><circle cx="886.5" cy="524.5" r="2.78"/><circle cx="887.5" cy="522.5" r="2.78"/><circle cx="888.5" cy="521.5" r="2.78"/><circle cx="888.5" cy="522.5" r="2.78"/><circle cx="889.5" cy="519.5" r="2.78"/><circle cx="889.5" cy="522.5" r="2.78"/><circle cx="890.5" cy="524.5" r="2.78"/><circle cx="891.5" cy="521.5" r="2.78"/><circle cx="891.5" cy="525.5" r="2.78"/><circle cx="892.5" cy="530.5" r="2.78"/><circle cx="893.5" cy="530.5" r="2.78"/><circle cx="893.5" cy="524.5" r="2.78"/><circle cx="894.5" cy="536.5" r="2.78"/><circle cx="895.5" cy="534.5" r="2.78"/><circle cx="895.5" cy="531.5" r="2.78"/><circle cx="896.5" cy="536.5" r="2.78"/><circle cx="897.5" cy="534.5" r="2.78"/><circle cx="897.5" cy="534.5" r="2.78"/><circle cx="898.5" cy="527.5" r="2.78"/><circle cx="899.5" cy="533.5" r="2.78"/><circle cx="899.5" cy="534.5" r="2.78"/><circle cx="900.5" cy="535.5" r="2.78"/><circle cx="900.5" cy="534.5" r="2.78"/><circle cx="901.5" cy="534.5" r="2.78"/><circle cx="902.5" cy="533.5" r="2.78"/><circle cx="902.5" cy="536.5" r="2.78"/><circle cx="903.5" cy="536.5" r="2.78"/><circle cx="904.5" cy="535.5" r="2.78"/><circle cx="904.5" cy="539.5" r="2.78"/><circle cx="905.5" cy="533.5" r="2.78"/><circle cx="906.5" cy="537.5" r="2.78"/><circle cx="906.5" cy="537.5" r="2.78"/><circle cx="907.5" cy="538.5" r="2.78"/><circle cx="908.5" cy="540.5" r="2.78"/><circle cx="908.5" cy="540.5" r="2.78"/><circle cx="909.5" cy="540.5" r="2.78"/><circle cx="910.5" cy="542.5" r="2.78"/><circle cx="910.5" cy="544.5" r="2.78"/><circle cx="911.5" cy="543.5" r="2.78"/><circle cx="911.5" cy="544.5" r="2.78"/><circle cx="912.5" cy="548.5" r="2.78"/><circle cx="913.5" cy="546.5" r="2.78"/><circle cx="913.5" cy="540.5" r="2.78"/><circle cx="914.5" cy="542.5" r="2.78"/><circle cx="915.5" cy="548.5" r="2.78"/><circle cx="915.5" cy="547.5" r="2.78"/><circle cx="916.5" cy="548.5" r="2.78"/><circle cx="917.5" cy="544.5" r="2.78"/><circle cx="917.5" cy="546.5" r="2.78"/><circle cx="918.5" cy="546.5" r="2.78"/><circle cx="919.5" cy="543.5" r="2.78"/><circle cx="919.5" cy="542.5" r="2.78"/><circle cx="920.5" cy="544.5" r="2.78"/><circle cx="920.5" cy="544.5" r="2.78"/><circle cx="921.5" cy="541.5" r="2.78"/><circle cx="922.5" cy="536.5" r="2.78"/><circle cx="922.5" cy="547.5" r="2.78"/><circle cx="923.5" cy="541.5" r="2.78"/><circle cx="924.5" cy="547.5" r="2.78"/><circle cx="924.5" cy="540.5" r="2.78"/><circle cx="925.5" cy="546.5" r="2.78"/><circle cx="926.5" cy="547.5" r="2.78"/><circle cx="926.5" cy="553.5" r="2.78"/><circle cx="927.5" cy="548.5" r="2.78"/><circle cx="928.5" cy="551.5" r="2.78"/><circle cx="928.5" cy="548.5" r="2.78"/><circle cx="929.5" cy="553.5" r="2.78"/><circle cx="930.5" cy="542.5" r="2.78"/><circle cx="930.5" cy="552.5" r="2.78"/><circle cx="931.5" cy="554.5" r="2.78"/><circle cx="931.5" cy="549.5" r="2.78"/><circle cx="932.5" cy="550.5" r="2.78"/><circle cx="933.5" cy="561.5" r="2.78"/><circle cx="933.5" cy="558.5" r="2.78"/><circle cx="934.5" cy="559.5" r="2.78"/><circle cx="935.5" cy="557.5" r="2.78"/><circle cx="935.5" cy="554.5" r="2.78"/><circle cx="936.5" cy="556.5" r="2.78"/><circle cx="937.5" cy="554.5" r="2.78"/><circle cx="937.5" cy="554.5" r="2.78"/><circle cx="938.5" cy="552.5" r="2.78"/><circle cx="939.5" cy="552.5" r="2.78"/><circle cx="939.5" cy="548.5" r="2.78"/><circle cx="940.5" cy="550.5" r="2.78"/><circle cx="941.5" cy="545.5" r="2.78"/><circle cx="941.5" cy="548.5" r="2.78"/><circle cx="942.5" cy="549.5" r="2.78"/><circle cx="942.5" cy="544.5" r="2.78"/><circle cx="943.5" cy="540.5" r="2.78"/><circle cx="944.5" cy="544.5" r="2.78"/><circle cx="944.5" cy="543.5" r="2.78"/><circle cx="945.5" cy="550.5" r="2.78"/><circle cx="946.5" cy="542.5" r="2.78"/><circle cx="946.5" cy="546.5" r="2.78"/><circle cx="947.5" cy="546.5" r="2.78"/><circle cx="948.5" cy="542.5" r="2.78"/><circle cx="948.5" cy="542.5" r="2.78"/><circle cx="949.5" cy="547.5" r="2.78"/><circle cx="950.5" cy="545.5" r="2.78"/><circle cx="950.5" cy="550.5" r="2.78"/><circle cx="951.5" cy="543.5" r="2.78"/><circle cx="951.5" cy="545.5" r="2.78"/><circle cx="952.5" cy="542.5" r="2.78"/><circle cx="953.5" cy="551.5" r="2.78"/><circle cx="953.5" cy="549.5" r="2.78"/><circle cx="954.5" cy="546.5" r="2.78"/><circle cx="955.5" cy="546.5" r="2.78"/><circle cx="955.5" cy="543.5" r="2.78"/><circle cx="956.5" cy="547.5" r="2.78"/><circle cx="957.5" cy="544.5" r="2.78"/><circle cx="957.5" cy="545.5" r="2.78"/><circle cx="958.5" cy="544.5" r="2.78"/><circle cx="959.5" cy="545.5" r="2.78"/><circle cx="959.5" cy="548.5" r="2.78"/><circle cx="960.5" cy="540.5" r="2.78"/><circle cx="961.5" cy="542.5" r="2.78"/><circle cx="961.5" cy="546.5" r="2.78"/><circle cx="962.5" cy="547.5" r="2.78"/><circle cx="962.5" cy="538.5" r="2.78"/><circle cx="963.5" cy="543.5" r="2.78"/><circle cx="964.5" cy="546.5" r="2.78"/><circle cx="964.5" cy="544.5" r="2.78"/><circle cx="965.5" cy="543.5" r="2.78"/><circle cx="966.5" cy="543.5" r="2.78"/><circle cx="966.5" cy="547.5" r="2.78"/><circle cx="967.5" cy="545.5" r="2.78"/><circle cx="968.5" cy="543.5" r="2.78"/><circle cx="968.5" cy="542.5" r="2.78"/><circle cx="969.5" cy="545.5" r="2.78"/><circle cx="970.5" cy="546.5" r="2.78"/><circle cx="970.5" cy="543.5" r="2.78"/><circle cx="971.5" cy="542.5" r="2.78"/><circle cx="972.5" cy="535.5" r="2.78"/><circle cx="972.5" cy="541.5" r="2.78"/><circle cx="973.5" cy="545.5" r="2.78"/><circle cx="973.5" cy="543.5" r="2.78"/><circle cx="974.5" cy="542.5" r="2.78"/><circle cx="975.5" cy="542.5" r="2.78"/><circle cx="975.5" cy="541.5" r="2.78"/><circle cx="976.5" cy="539.5" r="2.78"/><circle cx="977.5" cy="536.5" r="2.78"/><circle cx="977.5" cy="540.5" r="2.78"/><circle cx="978.5" cy="536.5" r="2.78"/><circle cx="979.5" cy="539.5" r="2.78"/><circle cx="979.5" cy="536.5" r="2.78"/><circle cx="980.5" cy="536.5" r="2.78"/><circle cx="981.5" cy="538.5" r="2.78"/><circle cx="981.5" cy="535.5" r="2.78"/><circle cx="982.5" cy="535.5" r="2.78"/><circle cx="982.5" cy="535.5" r="2.78"/><circle cx="983.5" cy="535.5" r="2.78"/><circle cx="984.5" cy="533.5" r="2.78"/><circle cx="984.5" cy="532.5" r="2.78"/><circle cx="985.5" cy="535.5" r="2.78"/><circle cx="986.5" cy="538.5" r="2.78"/><circle cx="986.5" cy="535.5" r="2.78"/><circle cx="987.5" cy="538.5" r="2.78"/><circle cx="988.5" cy="535.5" r="2.78"/><circle cx="988.5" cy="533.5" r="2.78"/><circle cx="989.5" cy="536.5" r="2.78"/><circle cx="990.5" cy="536.5" r="2.78"/><circle cx="990.5" cy="534.5" r="2.78"/><circle cx="991.5" cy="534.5" r="2.78"/><circle cx="992.5" cy="543.5" r="2.78"/><circle cx="992.5" cy="539.5" r="2.78"/><circle cx="993.5" cy="539.5" r="2.78"/><circle cx="993.5" cy="536.5" r="2.78"/><circle cx="994.5" cy="537.5" r="2.78"/><circle cx="995.5" cy="538.5" r="2.78"/><circle cx="995.5" cy="536.5" r="2.78"/><circle cx="996.5" cy="535.5" r="2.78"/><circle cx="997.5" cy="536.5" r="2.78"/><circle cx="997.5" cy="533.5" r="2.78"/><circle cx="998.5" cy="534.5" r="2.78"/><circle cx="999.5" cy="533.5" r="2.78"/><circle cx="999.5" cy="534.5" r="2.78"/><circle cx="1000.5" cy="536.5" r="2.78"/><circle cx="1001.5" cy="535.5" r="2.78"/><circle cx="1001.5" cy="534.5" r="2.78"/><circle cx="1002.5" cy="534.5" r="2.78"/><circle cx="1003.5" cy="533.5" r="2.78"/><circle cx="1003.5" cy="535.5" r="2.78"/><circle cx="1004.5" cy="532.5" r="2.78"/><circle cx="1004.5" cy="531.5" r="2.78"/><circle cx="1005.5" cy="532.5" r="2.78"/><circle cx="1006.5" cy="530.5" r="2.78"/><circle cx="1006.5" cy="536.5" r="2.78"/><circle cx="1007.5" cy="532.5" r="2.78"/><circle cx="1008.5" cy="531.5" r="2.78"/><circle cx="1008.5" cy="531.5" r="2.78"/><circle cx="1009.5" cy="529.5" r="2.78"/><circle cx="1010.5" cy="531.5" r="2.78"/><circle cx="1010.5" cy="531.5" r="2.78"/><circle cx="1011.5" cy="532.5" r="2.78"/><circle cx="1012.5" cy="531.5" r="2.78"/><circle cx="1012.5" cy="529.5" r="2.78"/><circle cx="1013.5" cy="532.5" r="2.78"/><circle cx="1013.5" cy="530.5" r="2.78"/><circle cx="1014.5" cy="531.5" r="2.78"/><circle cx="1015.5" cy="531.5" r="2.78"/><circle cx="1015.5" cy="531.5" r="2.78"/><circle cx="1016.5" cy="532.5" r="2.78"/><circle cx="1017.5" cy="533.5" r="2.78"/><circle cx="1017.5" cy="533.5" r="2.78"/><circle cx="1018.5" cy="534.5" r="2.78"/><circle cx="1019.5" cy="532.5" r="2.78"/><circle cx="1019.5" cy="533.5" r="2.78"/><circle cx="1020.5" cy="532.5" r="2.78"/><circle cx="1021.5" cy="533.5" r="2.78"/><circle cx="1021.5" cy="534.5" r="2.78"/><circle cx="1022.5" cy="533.5" r="2.78"/><circle cx="1023.5" cy="533.5" r="2.78"/><circle cx="1023.5" cy="534.5" r="2.78"/><circle cx="1024.5" cy="533.5" r="2.78"/><circle cx="1024.5" cy="531.5" r="2.78"/><circle cx="1025.5" cy="532.5" r="2.78"/><circle cx="1026.5" cy="532.5" r="2.78"/><circle cx="1026.5" cy="530.5" r="2.78"/><circle cx="1027.5" cy="532.5" r="2.78"/><circle cx="1028.5" cy="529.5" r="2.78"/><circle cx="1028.5" cy="529.5" r="2.78"/><circle cx="1029.5" cy="529.5" r="2.78"/><circle cx="1030.5" cy="528.5" r="2.78"/><circle cx="1030.5" cy="529.5" r="2.78"/><circle cx="1031.5" cy="528.5" r="2.78"/><circle cx="1032.5" cy="529.5" r="2.78"/><circle cx="1032.5" cy="528.5" r="2.78"/><circle cx="1033.5" cy="528.5" r="2.78"/><circle cx="1034.5" cy="528.5" r="2.78"/><circle cx="1034.5" cy="527.5" r="2.78"/><circle cx="1035.5" cy="527.5" r="2.78"/><circle cx="1035.5" cy="528.5" r="2.78"/><circle cx="1036.5" cy="528.5" r="2.78"/><circle cx="1037.5" cy="527.5" r="2.78"/><circle cx="1037.5" cy="526.5" r="2.78"/><circle cx="1038.5" cy="526.5" r="2.78"/><circle cx="1039.5" cy="525.5" r="2.78"/><circle cx="1039.5" cy="524.5" r="2.78"/><circle cx="1040.5" cy="525.5" r="2.78"/><circle cx="1041.5" cy="525.5" r="2.78"/><circle cx="1041.5" cy="524.5" r="2.78"/><circle cx="1042.5" cy="523.5" r="2.78"/><circle cx="1043.5" cy="524.5" r="2.78"/><circle cx="1043.5" cy="523.5" r="2.78"/><circle cx="1044.5" cy="523.5" r="2.78"/><circle cx="1044.5" cy="523.5" r="2.78"/><circle cx="1045.5" cy="523.5" r="2.78"/><circle cx="1046.5" cy="522.5" r="2.78"/><circle cx="1046.5" cy="522.5" r="2.78"/><circle cx="1047.5" cy="521.5" r="2.78"/><circle cx="1048.5" cy="521.5" r="2.78"/><circle cx="1048.5" cy="521.5" r="2.78"/><circle cx="1049.5" cy="521.5" r="2.78"/><circle cx="1050.5" cy="520.5" r="2.78"/><circle cx="1050.5" cy="517.5" r="2.78"/><circle cx="1051.5" cy="517.5" r="2.78"/><circle cx="1052.5" cy="518.5" r="2.78"/><circle cx="1052.5" cy="518.5" r="2.78"/><circle cx="1053.5" cy="514.5" r="2.78"/><circle cx="1054.5" cy="514.5" r="2.78"/><circle cx="1054.5" cy="511.5" r="2.78"/><circle cx="1055.5" cy="511.5" r="2.78"/><circle cx="1055.5" cy="508.5" r="2.78"/><circle cx="1056.5" cy="508.5" r="2.78"/><circle cx="1057.5" cy="505.5" r="2.78"/><circle cx="1057.5" cy="490.5" r="2.78"/><circle cx="1058.5" cy="490.5" r="2.78"/><circle cx="1059.5" cy="490.5" r="2.78"/><circle cx="1059.5" cy="490.5" r="2.78"/><circle cx="1060.5" cy="483.5" r="2.78"/><circle cx="1061.5" cy="484.5" r="2.78"/><circle cx="1061.5" cy="480.5" r="2.78"/><circle cx="1062.5" cy="479.5" r="2.78"/><circle cx="1063.5" cy="472.5" r="2.78"/><circle cx="1063.5" cy="472.5" r="2.78"/><circle cx="1064.5" cy="472.5" r="2.78"/><circle cx="1065.5" cy="472.5" r="2.78"/><circle cx="1065.5" cy="466.5" r="2.78"/><circle cx="1066.5" cy="467.5" r="2.78"/><circle cx="1066.5" cy="467.5" r="2.78"/><circle cx="1067.5" cy="464.5" r="2.78"/><circle cx="1068.5" cy="464.5" r="2.78"/><circle cx="1068.5" cy="462.5" r="2.78"/><circle cx="1069.5" cy="462.5" r="2.78"/><circle cx="1070.5" cy="461.5" r="2.78"/><circle cx="1070.5" cy="461.5" r="2.78"/><circle cx="1071.5" cy="460.5" r="2.78"/><circle cx="1072.5" cy="459.5" r="2.78"/><circle cx="1072.5" cy="459.5" r="2.78"/><circle cx="1073.5" cy="457.5" r="2.78"/><circle cx="1074.5" cy="458.5" r="2.78"/><circle cx="1074.5" cy="458.5" r="2.78"/><circle cx="1075.5" cy="457.5" r="2.78"/><circle cx="1075.5" cy="457.5" r="2.78"/><circle cx="1076.5" cy="456.5" r="2.78"/><circle cx="1077.5" cy="456.5" r="2.78"/><circle cx="1077.5" cy="456.5" r="2.78"/><circle cx="1078.5" cy="454.5" r="2.78"/><circle cx="1079.5" cy="454.5" r="2.78"/><circle cx="1079.5" cy="454.5" r="2.78"/><circle cx="1080.5" cy="455.5" r="2.78"/>
</g>
<path d="M150.50 115.50H1080.50M150.50 854.50H1080.50M150.50 115.50V854.50" stroke="#000" stroke-width="1.40" stroke-linecap="square" fill="none"/>
<path d="M1080.50 115.50V854.50" stroke="#000" stroke-width="1.40" stroke-linecap="square" fill="none"/>
<path d="M1080.50 115.50V854.50" stroke="#8b0000" stroke-width="1.15" stroke-linecap="square" fill="none"/>
<path d="M1080.50 854.50h6.00M1080.50 780.50h6.00M1080.50 707.50h6.00M1080.50 633.50h6.00M1080.50 559.50h6.00M1080.50 485.50h6.00M1080.50 411.50h6.00M1080.50 337.50h6.00M1080.50 263.50h6.00M1080.50 189.50h6.00M1080.50 115.50h6.00" stroke="#8b0000" stroke-width="1.11" fill="none"/>
<g text-anchor="middle" fill="#000" letter-spacing="-0.5">
<text x="150.50" y="877.90">0</text>
<text x="189.25" y="877.90">1</text>
<text x="228.00" y="877.90">2</text>
<text x="266.75" y="877.90">3</text>
<text x="305.50" y="877.90">4</text>
<text x="344.25" y="877.90">5</text>
<text x="383.00" y="877.90">6</text>
<text x="421.75" y="877.90">7</text>
<text x="460.50" y="877.90">8</text>
<text x="499.25" y="877.90">9</text>
<text x="537.30" y="877.90">10</text>
<text x="576.05" y="877.90">11</text>
<text x="614.80" y="877.90">12</text>
<text x="653.55" y="877.90">13</text>
<text x="692.30" y="877.90">14</text>
<text x="731.05" y="877.90">15</text>
<text x="769.80" y="877.90">16</text>
<text x="808.55" y="877.90">17</text>
<text x="847.30" y="877.90">18</text>
<text x="886.05" y="877.90">19</text>
<text x="924.80" y="877.90">20</text>
<text x="963.55" y="877.90">21</text>
<text x="1002.30" y="877.90">22</text>
<text x="1041.05" y="877.90">23</text>
<text x="1079.80" y="877.90">24</text>
</g>
<g text-anchor="end" fill="#000" letter-spacing="-0.5">
<text x="137.30" y="860.30">−30</text>
<text x="137.30" y="807.50">−25</text>
<text x="137.30" y="754.70">−20</text>
<text x="137.30" y="701.90">−15</text>
<text x="137.30" y="649.10">−10</text>
<text x="137.30" y="596.30">−5</text>
<text x="137.30" y="543.50">0</text>
<text x="137.30" y="490.70">5</text>
<text x="137.30" y="437.90">10</text>
<text x="137.30" y="385.10">15</text>
<text x="137.30" y="332.30">20</text>
<text x="137.30" y="279.50">25</text>
<text x="137.30" y="226.70">30</text>
<text x="137.30" y="173.90">35</text>
<text x="137.30" y="121.10">40</text>
</g>
<g text-anchor="start" fill="#8b0000" letter-spacing="-0.5">
<text x="1091.80" y="860.30">0</text>
<text x="1092.50" y="786.38">10</text>
<text x="1092.50" y="712.46">20</text>
<text x="1092.50" y="638.54">30</text>
<text x="1092.50" y="564.62">40</text>
<text x="1092.50" y="490.70">50</text>
<text x="1092.50" y="416.78">60</text>
<text x="1092.50" y="342.86">70</text>
<text x="1092.50" y="268.94">80</text>
<text x="1092.50" y="195.02">90</text>
<text x="1093.10" y="121.10">100</text>
</g>
<text x="615.00" y="900.00" text-anchor="middle" fill="#000">GMT Time Hours</text>
<text transform="translate(91.50 486.00) rotate(-90)" text-anchor="middle" fill="#000">Temperature and Dewpoint (C)</text>
<text transform="translate(1141.00 484.80) rotate(-90)" text-anchor="middle" fill="#8b0000">Relative Humidity (%)</text>
<g class="s" text-anchor="middle" fill="#006400">
<text class="s" x="615.00" y="65.50" xml:space="preserve" letter-spacing="-0.012">Station:  Vaisala WXT520  NASA LaRC 1196A</text>
<text class="s" x="615.00" y="85.80" xml:space="preserve" letter-spacing="0">37.1038 N 76.3872 W</text>
<text class="s" x="615.00" y="104.50" xml:space="preserve" letter-spacing="-0.035">Temperature, Dewpoint and Relative Humidity</text>
</g>
<text class="s" x="111.00" y="89.00" fill="#006400">03/14/2019</text>
<text class="s" x="293.00" y="916.00" fill="#00008b" letter-spacing="0.04">Min TEMP: 7.6C (45.7F)</text>
<text class="s" x="293.00" y="934.60" fill="#00008b" letter-spacing="0.04">Max TEMP: 22.8C (73.0F)</text>
<text class="s" x="525.00" y="916.00" fill="#006400" letter-spacing="0.04">Min DEWP: -0.5C (31.1F)</text>
<text class="s" x="525.00" y="935.50" fill="#006400" letter-spacing="0.04">Max DEWP: 10.3C (50.5F)</text>
<text class="s" x="758.00" y="916.00" fill="#8b0000" letter-spacing="0.04">Min RH: 39.8%</text>
<text class="s" x="758.00" y="934.60" fill="#8b0000" letter-spacing="0.04">Max RH: 73.1%</text>
<rect x="828.00" y="124.00" width="244.00" height="75.00" rx="4.30" ry="4.30" fill="#fff" fill-opacity="0.8" stroke="#ccc" stroke-opacity="0.8" stroke-width="1.8"/>
<circle cx="852.50" cy="136.50" r="2.78" fill="#8b0000" fill-opacity="0.40" stroke="#8b0000" stroke-opacity="0.40" stroke-width="1.39"/>
<circle cx="852.50" cy="160.50" r="3.47" fill="#0000ff"/>
<circle cx="852.50" cy="183.50" r="3.47" fill="#008000"/>
<text x="882.00" y="142.30" fill="#8b0000">Relative Humidity (%)</text>
<text x="882.00" y="166.00" fill="#0000ff">Temperature (C)</text>
<text x="882.00" y="188.70" fill="#008000">Dewpoint (C)</text>
</svg></body></html>
